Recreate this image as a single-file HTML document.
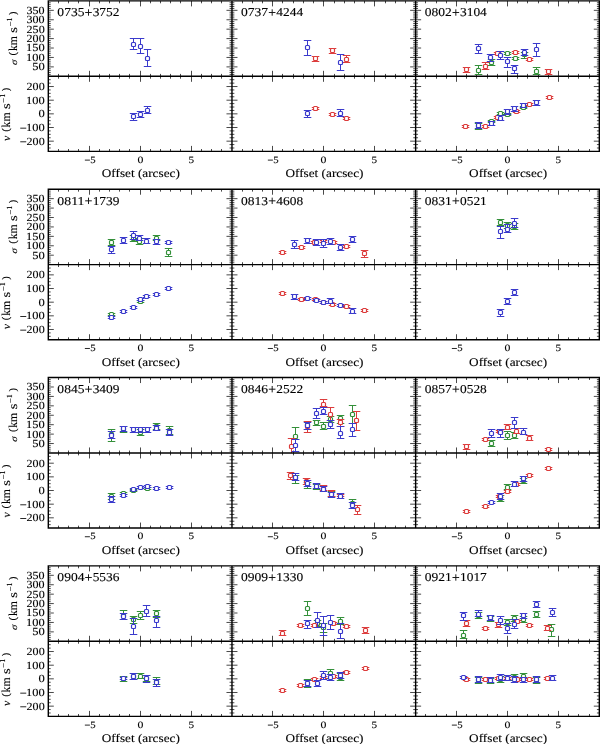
<!DOCTYPE html><html><head><meta charset="utf-8"><style>html,body{margin:0;padding:0;background:#fff;}body{width:600px;height:744px;overflow:hidden;}</style></head><body><svg width="600" height="744" viewBox="0 0 600 744" style="display:block"><rect width="600" height="744" fill="#fff"/><defs><clipPath id="cs00"><rect x="48.30" y="0.90" width="183.67" height="75.40"/></clipPath><clipPath id="cv00"><rect x="48.30" y="76.30" width="183.67" height="75.10"/></clipPath><clipPath id="cs01"><rect x="231.97" y="0.90" width="183.67" height="75.40"/></clipPath><clipPath id="cv01"><rect x="231.97" y="76.30" width="183.67" height="75.10"/></clipPath><clipPath id="cs02"><rect x="415.64" y="0.90" width="183.67" height="75.40"/></clipPath><clipPath id="cv02"><rect x="415.64" y="76.30" width="183.67" height="75.10"/></clipPath><clipPath id="cs10"><rect x="48.30" y="189.23" width="183.67" height="75.40"/></clipPath><clipPath id="cv10"><rect x="48.30" y="264.63" width="183.67" height="75.10"/></clipPath><clipPath id="cs11"><rect x="231.97" y="189.23" width="183.67" height="75.40"/></clipPath><clipPath id="cv11"><rect x="231.97" y="264.63" width="183.67" height="75.10"/></clipPath><clipPath id="cs12"><rect x="415.64" y="189.23" width="183.67" height="75.40"/></clipPath><clipPath id="cv12"><rect x="415.64" y="264.63" width="183.67" height="75.10"/></clipPath><clipPath id="cs20"><rect x="48.30" y="377.56" width="183.67" height="75.40"/></clipPath><clipPath id="cv20"><rect x="48.30" y="452.96" width="183.67" height="75.10"/></clipPath><clipPath id="cs21"><rect x="231.97" y="377.56" width="183.67" height="75.40"/></clipPath><clipPath id="cv21"><rect x="231.97" y="452.96" width="183.67" height="75.10"/></clipPath><clipPath id="cs22"><rect x="415.64" y="377.56" width="183.67" height="75.40"/></clipPath><clipPath id="cv22"><rect x="415.64" y="452.96" width="183.67" height="75.10"/></clipPath><clipPath id="cs30"><rect x="48.30" y="565.89" width="183.67" height="75.40"/></clipPath><clipPath id="cv30"><rect x="48.30" y="641.29" width="183.67" height="75.10"/></clipPath><clipPath id="cs31"><rect x="231.97" y="565.89" width="183.67" height="75.40"/></clipPath><clipPath id="cv31"><rect x="231.97" y="641.29" width="183.67" height="75.10"/></clipPath><clipPath id="cs32"><rect x="415.64" y="565.89" width="183.67" height="75.40"/></clipPath><clipPath id="cv32"><rect x="415.64" y="641.29" width="183.67" height="75.10"/></clipPath></defs><path d="M58.50 0.90v2.4M58.50 76.30v-2.4M58.50 76.30v2.4M58.50 151.40v-2.4M68.50 0.90v2.4M68.50 76.30v-2.4M68.50 76.30v2.4M68.50 151.40v-2.4M78.50 0.90v2.4M78.50 76.30v-2.4M78.50 76.30v2.4M78.50 151.40v-2.4M89.50 0.90v5.5M89.50 76.30v-5.5M89.50 76.30v5.5M89.50 151.40v-5.5M99.50 0.90v2.4M99.50 76.30v-2.4M99.50 76.30v2.4M99.50 151.40v-2.4M109.50 0.90v2.4M109.50 76.30v-2.4M109.50 76.30v2.4M109.50 151.40v-2.4M119.50 0.90v2.4M119.50 76.30v-2.4M119.50 76.30v2.4M119.50 151.40v-2.4M129.50 0.90v2.4M129.50 76.30v-2.4M129.50 76.30v2.4M129.50 151.40v-2.4M140.50 0.90v5.5M140.50 76.30v-5.5M140.50 76.30v5.5M140.50 151.40v-5.5M150.50 0.90v2.4M150.50 76.30v-2.4M150.50 76.30v2.4M150.50 151.40v-2.4M160.50 0.90v2.4M160.50 76.30v-2.4M160.50 76.30v2.4M160.50 151.40v-2.4M170.50 0.90v2.4M170.50 76.30v-2.4M170.50 76.30v2.4M170.50 151.40v-2.4M180.50 0.90v2.4M180.50 76.30v-2.4M180.50 76.30v2.4M180.50 151.40v-2.4M191.50 0.90v5.5M191.50 76.30v-5.5M191.50 76.30v5.5M191.50 151.40v-5.5M201.50 0.90v2.4M201.50 76.30v-2.4M201.50 76.30v2.4M201.50 151.40v-2.4M211.50 0.90v2.4M211.50 76.30v-2.4M211.50 76.30v2.4M211.50 151.40v-2.4M221.50 0.90v2.4M221.50 76.30v-2.4M221.50 76.30v2.4M221.50 151.40v-2.4M48.30 74.42h2.4M231.97 74.42h-2.4M48.30 72.53h2.4M231.97 72.53h-2.4M48.30 70.65h2.4M231.97 70.65h-2.4M48.30 68.76h2.4M231.97 68.76h-2.4M48.30 66.88h5.5M231.97 66.88h-5.5M48.30 64.99h2.4M231.97 64.99h-2.4M48.30 63.11h2.4M231.97 63.11h-2.4M48.30 61.22h2.4M231.97 61.22h-2.4M48.30 59.34h2.4M231.97 59.34h-2.4M48.30 57.45h5.5M231.97 57.45h-5.5M48.30 55.57h2.4M231.97 55.57h-2.4M48.30 53.68h2.4M231.97 53.68h-2.4M48.30 51.80h2.4M231.97 51.80h-2.4M48.30 49.91h2.4M231.97 49.91h-2.4M48.30 48.03h5.5M231.97 48.03h-5.5M48.30 46.14h2.4M231.97 46.14h-2.4M48.30 44.26h2.4M231.97 44.26h-2.4M48.30 42.37h2.4M231.97 42.37h-2.4M48.30 40.49h2.4M231.97 40.49h-2.4M48.30 38.60h5.5M231.97 38.60h-5.5M48.30 36.72h2.4M231.97 36.72h-2.4M48.30 34.83h2.4M231.97 34.83h-2.4M48.30 32.95h2.4M231.97 32.95h-2.4M48.30 31.06h2.4M231.97 31.06h-2.4M48.30 29.18h5.5M231.97 29.18h-5.5M48.30 27.29h2.4M231.97 27.29h-2.4M48.30 25.41h2.4M231.97 25.41h-2.4M48.30 23.52h2.4M231.97 23.52h-2.4M48.30 21.64h2.4M231.97 21.64h-2.4M48.30 19.75h5.5M231.97 19.75h-5.5M48.30 17.87h2.4M231.97 17.87h-2.4M48.30 15.98h2.4M231.97 15.98h-2.4M48.30 14.10h2.4M231.97 14.10h-2.4M48.30 12.21h2.4M231.97 12.21h-2.4M48.30 10.33h5.5M231.97 10.33h-5.5M48.30 8.44h2.4M231.97 8.44h-2.4M48.30 6.56h2.4M231.97 6.56h-2.4M48.30 4.67h2.4M231.97 4.67h-2.4M48.30 2.79h2.4M231.97 2.79h-2.4M48.30 147.99h2.4M231.97 147.99h-2.4M48.30 144.57h2.4M231.97 144.57h-2.4M48.30 141.16h5.5M231.97 141.16h-5.5M48.30 137.75h2.4M231.97 137.75h-2.4M48.30 134.33h2.4M231.97 134.33h-2.4M48.30 130.92h2.4M231.97 130.92h-2.4M48.30 127.50h5.5M231.97 127.50h-5.5M48.30 124.09h2.4M231.97 124.09h-2.4M48.30 120.68h2.4M231.97 120.68h-2.4M48.30 117.26h2.4M231.97 117.26h-2.4M48.30 113.85h5.5M231.97 113.85h-5.5M48.30 110.44h2.4M231.97 110.44h-2.4M48.30 107.02h2.4M231.97 107.02h-2.4M48.30 103.61h2.4M231.97 103.61h-2.4M48.30 100.20h5.5M231.97 100.20h-5.5M48.30 96.78h2.4M231.97 96.78h-2.4M48.30 93.37h2.4M231.97 93.37h-2.4M48.30 89.95h2.4M231.97 89.95h-2.4M48.30 86.54h5.5M231.97 86.54h-5.5M48.30 83.13h2.4M231.97 83.13h-2.4M48.30 79.71h2.4M231.97 79.71h-2.4M242.50 0.90v2.4M242.50 76.30v-2.4M242.50 76.30v2.4M242.50 151.40v-2.4M252.50 0.90v2.4M252.50 76.30v-2.4M252.50 76.30v2.4M252.50 151.40v-2.4M262.50 0.90v2.4M262.50 76.30v-2.4M262.50 76.30v2.4M262.50 151.40v-2.4M272.50 0.90v5.5M272.50 76.30v-5.5M272.50 76.30v5.5M272.50 151.40v-5.5M282.50 0.90v2.4M282.50 76.30v-2.4M282.50 76.30v2.4M282.50 151.40v-2.4M293.50 0.90v2.4M293.50 76.30v-2.4M293.50 76.30v2.4M293.50 151.40v-2.4M303.50 0.90v2.4M303.50 76.30v-2.4M303.50 76.30v2.4M303.50 151.40v-2.4M313.50 0.90v2.4M313.50 76.30v-2.4M313.50 76.30v2.4M313.50 151.40v-2.4M323.50 0.90v5.5M323.50 76.30v-5.5M323.50 76.30v5.5M323.50 151.40v-5.5M334.50 0.90v2.4M334.50 76.30v-2.4M334.50 76.30v2.4M334.50 151.40v-2.4M344.50 0.90v2.4M344.50 76.30v-2.4M344.50 76.30v2.4M344.50 151.40v-2.4M354.50 0.90v2.4M354.50 76.30v-2.4M354.50 76.30v2.4M354.50 151.40v-2.4M364.50 0.90v2.4M364.50 76.30v-2.4M364.50 76.30v2.4M364.50 151.40v-2.4M374.50 0.90v5.5M374.50 76.30v-5.5M374.50 76.30v5.5M374.50 151.40v-5.5M385.50 0.90v2.4M385.50 76.30v-2.4M385.50 76.30v2.4M385.50 151.40v-2.4M395.50 0.90v2.4M395.50 76.30v-2.4M395.50 76.30v2.4M395.50 151.40v-2.4M405.50 0.90v2.4M405.50 76.30v-2.4M405.50 76.30v2.4M405.50 151.40v-2.4M231.97 74.42h2.4M415.64 74.42h-2.4M231.97 72.53h2.4M415.64 72.53h-2.4M231.97 70.65h2.4M415.64 70.65h-2.4M231.97 68.76h2.4M415.64 68.76h-2.4M231.97 66.88h5.5M415.64 66.88h-5.5M231.97 64.99h2.4M415.64 64.99h-2.4M231.97 63.11h2.4M415.64 63.11h-2.4M231.97 61.22h2.4M415.64 61.22h-2.4M231.97 59.34h2.4M415.64 59.34h-2.4M231.97 57.45h5.5M415.64 57.45h-5.5M231.97 55.57h2.4M415.64 55.57h-2.4M231.97 53.68h2.4M415.64 53.68h-2.4M231.97 51.80h2.4M415.64 51.80h-2.4M231.97 49.91h2.4M415.64 49.91h-2.4M231.97 48.03h5.5M415.64 48.03h-5.5M231.97 46.14h2.4M415.64 46.14h-2.4M231.97 44.26h2.4M415.64 44.26h-2.4M231.97 42.37h2.4M415.64 42.37h-2.4M231.97 40.49h2.4M415.64 40.49h-2.4M231.97 38.60h5.5M415.64 38.60h-5.5M231.97 36.72h2.4M415.64 36.72h-2.4M231.97 34.83h2.4M415.64 34.83h-2.4M231.97 32.95h2.4M415.64 32.95h-2.4M231.97 31.06h2.4M415.64 31.06h-2.4M231.97 29.18h5.5M415.64 29.18h-5.5M231.97 27.29h2.4M415.64 27.29h-2.4M231.97 25.41h2.4M415.64 25.41h-2.4M231.97 23.52h2.4M415.64 23.52h-2.4M231.97 21.64h2.4M415.64 21.64h-2.4M231.97 19.75h5.5M415.64 19.75h-5.5M231.97 17.87h2.4M415.64 17.87h-2.4M231.97 15.98h2.4M415.64 15.98h-2.4M231.97 14.10h2.4M415.64 14.10h-2.4M231.97 12.21h2.4M415.64 12.21h-2.4M231.97 10.33h5.5M415.64 10.33h-5.5M231.97 8.44h2.4M415.64 8.44h-2.4M231.97 6.56h2.4M415.64 6.56h-2.4M231.97 4.67h2.4M415.64 4.67h-2.4M231.97 2.79h2.4M415.64 2.79h-2.4M231.97 147.99h2.4M415.64 147.99h-2.4M231.97 144.57h2.4M415.64 144.57h-2.4M231.97 141.16h5.5M415.64 141.16h-5.5M231.97 137.75h2.4M415.64 137.75h-2.4M231.97 134.33h2.4M415.64 134.33h-2.4M231.97 130.92h2.4M415.64 130.92h-2.4M231.97 127.50h5.5M415.64 127.50h-5.5M231.97 124.09h2.4M415.64 124.09h-2.4M231.97 120.68h2.4M415.64 120.68h-2.4M231.97 117.26h2.4M415.64 117.26h-2.4M231.97 113.85h5.5M415.64 113.85h-5.5M231.97 110.44h2.4M415.64 110.44h-2.4M231.97 107.02h2.4M415.64 107.02h-2.4M231.97 103.61h2.4M415.64 103.61h-2.4M231.97 100.20h5.5M415.64 100.20h-5.5M231.97 96.78h2.4M415.64 96.78h-2.4M231.97 93.37h2.4M415.64 93.37h-2.4M231.97 89.95h2.4M415.64 89.95h-2.4M231.97 86.54h5.5M415.64 86.54h-5.5M231.97 83.13h2.4M415.64 83.13h-2.4M231.97 79.71h2.4M415.64 79.71h-2.4M425.50 0.90v2.4M425.50 76.30v-2.4M425.50 76.30v2.4M425.50 151.40v-2.4M436.50 0.90v2.4M436.50 76.30v-2.4M436.50 76.30v2.4M436.50 151.40v-2.4M446.50 0.90v2.4M446.50 76.30v-2.4M446.50 76.30v2.4M446.50 151.40v-2.4M456.50 0.90v5.5M456.50 76.30v-5.5M456.50 76.30v5.5M456.50 151.40v-5.5M466.50 0.90v2.4M466.50 76.30v-2.4M466.50 76.30v2.4M466.50 151.40v-2.4M476.50 0.90v2.4M476.50 76.30v-2.4M476.50 76.30v2.4M476.50 151.40v-2.4M487.50 0.90v2.4M487.50 76.30v-2.4M487.50 76.30v2.4M487.50 151.40v-2.4M497.50 0.90v2.4M497.50 76.30v-2.4M497.50 76.30v2.4M497.50 151.40v-2.4M507.50 0.90v5.5M507.50 76.30v-5.5M507.50 76.30v5.5M507.50 151.40v-5.5M517.50 0.90v2.4M517.50 76.30v-2.4M517.50 76.30v2.4M517.50 151.40v-2.4M527.50 0.90v2.4M527.50 76.30v-2.4M527.50 76.30v2.4M527.50 151.40v-2.4M538.50 0.90v2.4M538.50 76.30v-2.4M538.50 76.30v2.4M538.50 151.40v-2.4M548.50 0.90v2.4M548.50 76.30v-2.4M548.50 76.30v2.4M548.50 151.40v-2.4M558.50 0.90v5.5M558.50 76.30v-5.5M558.50 76.30v5.5M558.50 151.40v-5.5M568.50 0.90v2.4M568.50 76.30v-2.4M568.50 76.30v2.4M568.50 151.40v-2.4M578.50 0.90v2.4M578.50 76.30v-2.4M578.50 76.30v2.4M578.50 151.40v-2.4M589.50 0.90v2.4M589.50 76.30v-2.4M589.50 76.30v2.4M589.50 151.40v-2.4M415.64 74.42h2.4M599.31 74.42h-2.4M415.64 72.53h2.4M599.31 72.53h-2.4M415.64 70.65h2.4M599.31 70.65h-2.4M415.64 68.76h2.4M599.31 68.76h-2.4M415.64 66.88h5.5M599.31 66.88h-5.5M415.64 64.99h2.4M599.31 64.99h-2.4M415.64 63.11h2.4M599.31 63.11h-2.4M415.64 61.22h2.4M599.31 61.22h-2.4M415.64 59.34h2.4M599.31 59.34h-2.4M415.64 57.45h5.5M599.31 57.45h-5.5M415.64 55.57h2.4M599.31 55.57h-2.4M415.64 53.68h2.4M599.31 53.68h-2.4M415.64 51.80h2.4M599.31 51.80h-2.4M415.64 49.91h2.4M599.31 49.91h-2.4M415.64 48.03h5.5M599.31 48.03h-5.5M415.64 46.14h2.4M599.31 46.14h-2.4M415.64 44.26h2.4M599.31 44.26h-2.4M415.64 42.37h2.4M599.31 42.37h-2.4M415.64 40.49h2.4M599.31 40.49h-2.4M415.64 38.60h5.5M599.31 38.60h-5.5M415.64 36.72h2.4M599.31 36.72h-2.4M415.64 34.83h2.4M599.31 34.83h-2.4M415.64 32.95h2.4M599.31 32.95h-2.4M415.64 31.06h2.4M599.31 31.06h-2.4M415.64 29.18h5.5M599.31 29.18h-5.5M415.64 27.29h2.4M599.31 27.29h-2.4M415.64 25.41h2.4M599.31 25.41h-2.4M415.64 23.52h2.4M599.31 23.52h-2.4M415.64 21.64h2.4M599.31 21.64h-2.4M415.64 19.75h5.5M599.31 19.75h-5.5M415.64 17.87h2.4M599.31 17.87h-2.4M415.64 15.98h2.4M599.31 15.98h-2.4M415.64 14.10h2.4M599.31 14.10h-2.4M415.64 12.21h2.4M599.31 12.21h-2.4M415.64 10.33h5.5M599.31 10.33h-5.5M415.64 8.44h2.4M599.31 8.44h-2.4M415.64 6.56h2.4M599.31 6.56h-2.4M415.64 4.67h2.4M599.31 4.67h-2.4M415.64 2.79h2.4M599.31 2.79h-2.4M415.64 147.99h2.4M599.31 147.99h-2.4M415.64 144.57h2.4M599.31 144.57h-2.4M415.64 141.16h5.5M599.31 141.16h-5.5M415.64 137.75h2.4M599.31 137.75h-2.4M415.64 134.33h2.4M599.31 134.33h-2.4M415.64 130.92h2.4M599.31 130.92h-2.4M415.64 127.50h5.5M599.31 127.50h-5.5M415.64 124.09h2.4M599.31 124.09h-2.4M415.64 120.68h2.4M599.31 120.68h-2.4M415.64 117.26h2.4M599.31 117.26h-2.4M415.64 113.85h5.5M599.31 113.85h-5.5M415.64 110.44h2.4M599.31 110.44h-2.4M415.64 107.02h2.4M599.31 107.02h-2.4M415.64 103.61h2.4M599.31 103.61h-2.4M415.64 100.20h5.5M599.31 100.20h-5.5M415.64 96.78h2.4M599.31 96.78h-2.4M415.64 93.37h2.4M599.31 93.37h-2.4M415.64 89.95h2.4M599.31 89.95h-2.4M415.64 86.54h5.5M599.31 86.54h-5.5M415.64 83.13h2.4M599.31 83.13h-2.4M415.64 79.71h2.4M599.31 79.71h-2.4M58.50 189.23v2.4M58.50 264.63v-2.4M58.50 264.63v2.4M58.50 339.73v-2.4M68.50 189.23v2.4M68.50 264.63v-2.4M68.50 264.63v2.4M68.50 339.73v-2.4M78.50 189.23v2.4M78.50 264.63v-2.4M78.50 264.63v2.4M78.50 339.73v-2.4M89.50 189.23v5.5M89.50 264.63v-5.5M89.50 264.63v5.5M89.50 339.73v-5.5M99.50 189.23v2.4M99.50 264.63v-2.4M99.50 264.63v2.4M99.50 339.73v-2.4M109.50 189.23v2.4M109.50 264.63v-2.4M109.50 264.63v2.4M109.50 339.73v-2.4M119.50 189.23v2.4M119.50 264.63v-2.4M119.50 264.63v2.4M119.50 339.73v-2.4M129.50 189.23v2.4M129.50 264.63v-2.4M129.50 264.63v2.4M129.50 339.73v-2.4M140.50 189.23v5.5M140.50 264.63v-5.5M140.50 264.63v5.5M140.50 339.73v-5.5M150.50 189.23v2.4M150.50 264.63v-2.4M150.50 264.63v2.4M150.50 339.73v-2.4M160.50 189.23v2.4M160.50 264.63v-2.4M160.50 264.63v2.4M160.50 339.73v-2.4M170.50 189.23v2.4M170.50 264.63v-2.4M170.50 264.63v2.4M170.50 339.73v-2.4M180.50 189.23v2.4M180.50 264.63v-2.4M180.50 264.63v2.4M180.50 339.73v-2.4M191.50 189.23v5.5M191.50 264.63v-5.5M191.50 264.63v5.5M191.50 339.73v-5.5M201.50 189.23v2.4M201.50 264.63v-2.4M201.50 264.63v2.4M201.50 339.73v-2.4M211.50 189.23v2.4M211.50 264.63v-2.4M211.50 264.63v2.4M211.50 339.73v-2.4M221.50 189.23v2.4M221.50 264.63v-2.4M221.50 264.63v2.4M221.50 339.73v-2.4M48.30 262.75h2.4M231.97 262.75h-2.4M48.30 260.86h2.4M231.97 260.86h-2.4M48.30 258.98h2.4M231.97 258.98h-2.4M48.30 257.09h2.4M231.97 257.09h-2.4M48.30 255.20h5.5M231.97 255.20h-5.5M48.30 253.32h2.4M231.97 253.32h-2.4M48.30 251.44h2.4M231.97 251.44h-2.4M48.30 249.55h2.4M231.97 249.55h-2.4M48.30 247.66h2.4M231.97 247.66h-2.4M48.30 245.78h5.5M231.97 245.78h-5.5M48.30 243.89h2.4M231.97 243.89h-2.4M48.30 242.01h2.4M231.97 242.01h-2.4M48.30 240.12h2.4M231.97 240.12h-2.4M48.30 238.24h2.4M231.97 238.24h-2.4M48.30 236.35h5.5M231.97 236.35h-5.5M48.30 234.47h2.4M231.97 234.47h-2.4M48.30 232.58h2.4M231.97 232.58h-2.4M48.30 230.70h2.4M231.97 230.70h-2.4M48.30 228.81h2.4M231.97 228.81h-2.4M48.30 226.93h5.5M231.97 226.93h-5.5M48.30 225.04h2.4M231.97 225.04h-2.4M48.30 223.16h2.4M231.97 223.16h-2.4M48.30 221.28h2.4M231.97 221.28h-2.4M48.30 219.39h2.4M231.97 219.39h-2.4M48.30 217.50h5.5M231.97 217.50h-5.5M48.30 215.62h2.4M231.97 215.62h-2.4M48.30 213.73h2.4M231.97 213.73h-2.4M48.30 211.85h2.4M231.97 211.85h-2.4M48.30 209.97h2.4M231.97 209.97h-2.4M48.30 208.08h5.5M231.97 208.08h-5.5M48.30 206.19h2.4M231.97 206.19h-2.4M48.30 204.31h2.4M231.97 204.31h-2.4M48.30 202.43h2.4M231.97 202.43h-2.4M48.30 200.54h2.4M231.97 200.54h-2.4M48.30 198.65h5.5M231.97 198.65h-5.5M48.30 196.77h2.4M231.97 196.77h-2.4M48.30 194.88h2.4M231.97 194.88h-2.4M48.30 193.00h2.4M231.97 193.00h-2.4M48.30 191.12h2.4M231.97 191.12h-2.4M48.30 336.32h2.4M231.97 336.32h-2.4M48.30 332.90h2.4M231.97 332.90h-2.4M48.30 329.49h5.5M231.97 329.49h-5.5M48.30 326.08h2.4M231.97 326.08h-2.4M48.30 322.66h2.4M231.97 322.66h-2.4M48.30 319.25h2.4M231.97 319.25h-2.4M48.30 315.83h5.5M231.97 315.83h-5.5M48.30 312.42h2.4M231.97 312.42h-2.4M48.30 309.01h2.4M231.97 309.01h-2.4M48.30 305.59h2.4M231.97 305.59h-2.4M48.30 302.18h5.5M231.97 302.18h-5.5M48.30 298.77h2.4M231.97 298.77h-2.4M48.30 295.35h2.4M231.97 295.35h-2.4M48.30 291.94h2.4M231.97 291.94h-2.4M48.30 288.53h5.5M231.97 288.53h-5.5M48.30 285.11h2.4M231.97 285.11h-2.4M48.30 281.70h2.4M231.97 281.70h-2.4M48.30 278.28h2.4M231.97 278.28h-2.4M48.30 274.87h5.5M231.97 274.87h-5.5M48.30 271.46h2.4M231.97 271.46h-2.4M48.30 268.04h2.4M231.97 268.04h-2.4M242.50 189.23v2.4M242.50 264.63v-2.4M242.50 264.63v2.4M242.50 339.73v-2.4M252.50 189.23v2.4M252.50 264.63v-2.4M252.50 264.63v2.4M252.50 339.73v-2.4M262.50 189.23v2.4M262.50 264.63v-2.4M262.50 264.63v2.4M262.50 339.73v-2.4M272.50 189.23v5.5M272.50 264.63v-5.5M272.50 264.63v5.5M272.50 339.73v-5.5M282.50 189.23v2.4M282.50 264.63v-2.4M282.50 264.63v2.4M282.50 339.73v-2.4M293.50 189.23v2.4M293.50 264.63v-2.4M293.50 264.63v2.4M293.50 339.73v-2.4M303.50 189.23v2.4M303.50 264.63v-2.4M303.50 264.63v2.4M303.50 339.73v-2.4M313.50 189.23v2.4M313.50 264.63v-2.4M313.50 264.63v2.4M313.50 339.73v-2.4M323.50 189.23v5.5M323.50 264.63v-5.5M323.50 264.63v5.5M323.50 339.73v-5.5M334.50 189.23v2.4M334.50 264.63v-2.4M334.50 264.63v2.4M334.50 339.73v-2.4M344.50 189.23v2.4M344.50 264.63v-2.4M344.50 264.63v2.4M344.50 339.73v-2.4M354.50 189.23v2.4M354.50 264.63v-2.4M354.50 264.63v2.4M354.50 339.73v-2.4M364.50 189.23v2.4M364.50 264.63v-2.4M364.50 264.63v2.4M364.50 339.73v-2.4M374.50 189.23v5.5M374.50 264.63v-5.5M374.50 264.63v5.5M374.50 339.73v-5.5M385.50 189.23v2.4M385.50 264.63v-2.4M385.50 264.63v2.4M385.50 339.73v-2.4M395.50 189.23v2.4M395.50 264.63v-2.4M395.50 264.63v2.4M395.50 339.73v-2.4M405.50 189.23v2.4M405.50 264.63v-2.4M405.50 264.63v2.4M405.50 339.73v-2.4M231.97 262.75h2.4M415.64 262.75h-2.4M231.97 260.86h2.4M415.64 260.86h-2.4M231.97 258.98h2.4M415.64 258.98h-2.4M231.97 257.09h2.4M415.64 257.09h-2.4M231.97 255.20h5.5M415.64 255.20h-5.5M231.97 253.32h2.4M415.64 253.32h-2.4M231.97 251.44h2.4M415.64 251.44h-2.4M231.97 249.55h2.4M415.64 249.55h-2.4M231.97 247.66h2.4M415.64 247.66h-2.4M231.97 245.78h5.5M415.64 245.78h-5.5M231.97 243.89h2.4M415.64 243.89h-2.4M231.97 242.01h2.4M415.64 242.01h-2.4M231.97 240.12h2.4M415.64 240.12h-2.4M231.97 238.24h2.4M415.64 238.24h-2.4M231.97 236.35h5.5M415.64 236.35h-5.5M231.97 234.47h2.4M415.64 234.47h-2.4M231.97 232.58h2.4M415.64 232.58h-2.4M231.97 230.70h2.4M415.64 230.70h-2.4M231.97 228.81h2.4M415.64 228.81h-2.4M231.97 226.93h5.5M415.64 226.93h-5.5M231.97 225.04h2.4M415.64 225.04h-2.4M231.97 223.16h2.4M415.64 223.16h-2.4M231.97 221.28h2.4M415.64 221.28h-2.4M231.97 219.39h2.4M415.64 219.39h-2.4M231.97 217.50h5.5M415.64 217.50h-5.5M231.97 215.62h2.4M415.64 215.62h-2.4M231.97 213.73h2.4M415.64 213.73h-2.4M231.97 211.85h2.4M415.64 211.85h-2.4M231.97 209.97h2.4M415.64 209.97h-2.4M231.97 208.08h5.5M415.64 208.08h-5.5M231.97 206.19h2.4M415.64 206.19h-2.4M231.97 204.31h2.4M415.64 204.31h-2.4M231.97 202.43h2.4M415.64 202.43h-2.4M231.97 200.54h2.4M415.64 200.54h-2.4M231.97 198.65h5.5M415.64 198.65h-5.5M231.97 196.77h2.4M415.64 196.77h-2.4M231.97 194.88h2.4M415.64 194.88h-2.4M231.97 193.00h2.4M415.64 193.00h-2.4M231.97 191.12h2.4M415.64 191.12h-2.4M231.97 336.32h2.4M415.64 336.32h-2.4M231.97 332.90h2.4M415.64 332.90h-2.4M231.97 329.49h5.5M415.64 329.49h-5.5M231.97 326.08h2.4M415.64 326.08h-2.4M231.97 322.66h2.4M415.64 322.66h-2.4M231.97 319.25h2.4M415.64 319.25h-2.4M231.97 315.83h5.5M415.64 315.83h-5.5M231.97 312.42h2.4M415.64 312.42h-2.4M231.97 309.01h2.4M415.64 309.01h-2.4M231.97 305.59h2.4M415.64 305.59h-2.4M231.97 302.18h5.5M415.64 302.18h-5.5M231.97 298.77h2.4M415.64 298.77h-2.4M231.97 295.35h2.4M415.64 295.35h-2.4M231.97 291.94h2.4M415.64 291.94h-2.4M231.97 288.53h5.5M415.64 288.53h-5.5M231.97 285.11h2.4M415.64 285.11h-2.4M231.97 281.70h2.4M415.64 281.70h-2.4M231.97 278.28h2.4M415.64 278.28h-2.4M231.97 274.87h5.5M415.64 274.87h-5.5M231.97 271.46h2.4M415.64 271.46h-2.4M231.97 268.04h2.4M415.64 268.04h-2.4M425.50 189.23v2.4M425.50 264.63v-2.4M425.50 264.63v2.4M425.50 339.73v-2.4M436.50 189.23v2.4M436.50 264.63v-2.4M436.50 264.63v2.4M436.50 339.73v-2.4M446.50 189.23v2.4M446.50 264.63v-2.4M446.50 264.63v2.4M446.50 339.73v-2.4M456.50 189.23v5.5M456.50 264.63v-5.5M456.50 264.63v5.5M456.50 339.73v-5.5M466.50 189.23v2.4M466.50 264.63v-2.4M466.50 264.63v2.4M466.50 339.73v-2.4M476.50 189.23v2.4M476.50 264.63v-2.4M476.50 264.63v2.4M476.50 339.73v-2.4M487.50 189.23v2.4M487.50 264.63v-2.4M487.50 264.63v2.4M487.50 339.73v-2.4M497.50 189.23v2.4M497.50 264.63v-2.4M497.50 264.63v2.4M497.50 339.73v-2.4M507.50 189.23v5.5M507.50 264.63v-5.5M507.50 264.63v5.5M507.50 339.73v-5.5M517.50 189.23v2.4M517.50 264.63v-2.4M517.50 264.63v2.4M517.50 339.73v-2.4M527.50 189.23v2.4M527.50 264.63v-2.4M527.50 264.63v2.4M527.50 339.73v-2.4M538.50 189.23v2.4M538.50 264.63v-2.4M538.50 264.63v2.4M538.50 339.73v-2.4M548.50 189.23v2.4M548.50 264.63v-2.4M548.50 264.63v2.4M548.50 339.73v-2.4M558.50 189.23v5.5M558.50 264.63v-5.5M558.50 264.63v5.5M558.50 339.73v-5.5M568.50 189.23v2.4M568.50 264.63v-2.4M568.50 264.63v2.4M568.50 339.73v-2.4M578.50 189.23v2.4M578.50 264.63v-2.4M578.50 264.63v2.4M578.50 339.73v-2.4M589.50 189.23v2.4M589.50 264.63v-2.4M589.50 264.63v2.4M589.50 339.73v-2.4M415.64 262.75h2.4M599.31 262.75h-2.4M415.64 260.86h2.4M599.31 260.86h-2.4M415.64 258.98h2.4M599.31 258.98h-2.4M415.64 257.09h2.4M599.31 257.09h-2.4M415.64 255.20h5.5M599.31 255.20h-5.5M415.64 253.32h2.4M599.31 253.32h-2.4M415.64 251.44h2.4M599.31 251.44h-2.4M415.64 249.55h2.4M599.31 249.55h-2.4M415.64 247.66h2.4M599.31 247.66h-2.4M415.64 245.78h5.5M599.31 245.78h-5.5M415.64 243.89h2.4M599.31 243.89h-2.4M415.64 242.01h2.4M599.31 242.01h-2.4M415.64 240.12h2.4M599.31 240.12h-2.4M415.64 238.24h2.4M599.31 238.24h-2.4M415.64 236.35h5.5M599.31 236.35h-5.5M415.64 234.47h2.4M599.31 234.47h-2.4M415.64 232.58h2.4M599.31 232.58h-2.4M415.64 230.70h2.4M599.31 230.70h-2.4M415.64 228.81h2.4M599.31 228.81h-2.4M415.64 226.93h5.5M599.31 226.93h-5.5M415.64 225.04h2.4M599.31 225.04h-2.4M415.64 223.16h2.4M599.31 223.16h-2.4M415.64 221.28h2.4M599.31 221.28h-2.4M415.64 219.39h2.4M599.31 219.39h-2.4M415.64 217.50h5.5M599.31 217.50h-5.5M415.64 215.62h2.4M599.31 215.62h-2.4M415.64 213.73h2.4M599.31 213.73h-2.4M415.64 211.85h2.4M599.31 211.85h-2.4M415.64 209.97h2.4M599.31 209.97h-2.4M415.64 208.08h5.5M599.31 208.08h-5.5M415.64 206.19h2.4M599.31 206.19h-2.4M415.64 204.31h2.4M599.31 204.31h-2.4M415.64 202.43h2.4M599.31 202.43h-2.4M415.64 200.54h2.4M599.31 200.54h-2.4M415.64 198.65h5.5M599.31 198.65h-5.5M415.64 196.77h2.4M599.31 196.77h-2.4M415.64 194.88h2.4M599.31 194.88h-2.4M415.64 193.00h2.4M599.31 193.00h-2.4M415.64 191.12h2.4M599.31 191.12h-2.4M415.64 336.32h2.4M599.31 336.32h-2.4M415.64 332.90h2.4M599.31 332.90h-2.4M415.64 329.49h5.5M599.31 329.49h-5.5M415.64 326.08h2.4M599.31 326.08h-2.4M415.64 322.66h2.4M599.31 322.66h-2.4M415.64 319.25h2.4M599.31 319.25h-2.4M415.64 315.83h5.5M599.31 315.83h-5.5M415.64 312.42h2.4M599.31 312.42h-2.4M415.64 309.01h2.4M599.31 309.01h-2.4M415.64 305.59h2.4M599.31 305.59h-2.4M415.64 302.18h5.5M599.31 302.18h-5.5M415.64 298.77h2.4M599.31 298.77h-2.4M415.64 295.35h2.4M599.31 295.35h-2.4M415.64 291.94h2.4M599.31 291.94h-2.4M415.64 288.53h5.5M599.31 288.53h-5.5M415.64 285.11h2.4M599.31 285.11h-2.4M415.64 281.70h2.4M599.31 281.70h-2.4M415.64 278.28h2.4M599.31 278.28h-2.4M415.64 274.87h5.5M599.31 274.87h-5.5M415.64 271.46h2.4M599.31 271.46h-2.4M415.64 268.04h2.4M599.31 268.04h-2.4M58.50 377.56v2.4M58.50 452.96v-2.4M58.50 452.96v2.4M58.50 528.06v-2.4M68.50 377.56v2.4M68.50 452.96v-2.4M68.50 452.96v2.4M68.50 528.06v-2.4M78.50 377.56v2.4M78.50 452.96v-2.4M78.50 452.96v2.4M78.50 528.06v-2.4M89.50 377.56v5.5M89.50 452.96v-5.5M89.50 452.96v5.5M89.50 528.06v-5.5M99.50 377.56v2.4M99.50 452.96v-2.4M99.50 452.96v2.4M99.50 528.06v-2.4M109.50 377.56v2.4M109.50 452.96v-2.4M109.50 452.96v2.4M109.50 528.06v-2.4M119.50 377.56v2.4M119.50 452.96v-2.4M119.50 452.96v2.4M119.50 528.06v-2.4M129.50 377.56v2.4M129.50 452.96v-2.4M129.50 452.96v2.4M129.50 528.06v-2.4M140.50 377.56v5.5M140.50 452.96v-5.5M140.50 452.96v5.5M140.50 528.06v-5.5M150.50 377.56v2.4M150.50 452.96v-2.4M150.50 452.96v2.4M150.50 528.06v-2.4M160.50 377.56v2.4M160.50 452.96v-2.4M160.50 452.96v2.4M160.50 528.06v-2.4M170.50 377.56v2.4M170.50 452.96v-2.4M170.50 452.96v2.4M170.50 528.06v-2.4M180.50 377.56v2.4M180.50 452.96v-2.4M180.50 452.96v2.4M180.50 528.06v-2.4M191.50 377.56v5.5M191.50 452.96v-5.5M191.50 452.96v5.5M191.50 528.06v-5.5M201.50 377.56v2.4M201.50 452.96v-2.4M201.50 452.96v2.4M201.50 528.06v-2.4M211.50 377.56v2.4M211.50 452.96v-2.4M211.50 452.96v2.4M211.50 528.06v-2.4M221.50 377.56v2.4M221.50 452.96v-2.4M221.50 452.96v2.4M221.50 528.06v-2.4M48.30 451.08h2.4M231.97 451.08h-2.4M48.30 449.19h2.4M231.97 449.19h-2.4M48.30 447.31h2.4M231.97 447.31h-2.4M48.30 445.42h2.4M231.97 445.42h-2.4M48.30 443.54h5.5M231.97 443.54h-5.5M48.30 441.65h2.4M231.97 441.65h-2.4M48.30 439.77h2.4M231.97 439.77h-2.4M48.30 437.88h2.4M231.97 437.88h-2.4M48.30 436.00h2.4M231.97 436.00h-2.4M48.30 434.11h5.5M231.97 434.11h-5.5M48.30 432.23h2.4M231.97 432.23h-2.4M48.30 430.34h2.4M231.97 430.34h-2.4M48.30 428.46h2.4M231.97 428.46h-2.4M48.30 426.57h2.4M231.97 426.57h-2.4M48.30 424.69h5.5M231.97 424.69h-5.5M48.30 422.80h2.4M231.97 422.80h-2.4M48.30 420.92h2.4M231.97 420.92h-2.4M48.30 419.03h2.4M231.97 419.03h-2.4M48.30 417.15h2.4M231.97 417.15h-2.4M48.30 415.26h5.5M231.97 415.26h-5.5M48.30 413.38h2.4M231.97 413.38h-2.4M48.30 411.49h2.4M231.97 411.49h-2.4M48.30 409.61h2.4M231.97 409.61h-2.4M48.30 407.72h2.4M231.97 407.72h-2.4M48.30 405.84h5.5M231.97 405.84h-5.5M48.30 403.95h2.4M231.97 403.95h-2.4M48.30 402.07h2.4M231.97 402.07h-2.4M48.30 400.18h2.4M231.97 400.18h-2.4M48.30 398.30h2.4M231.97 398.30h-2.4M48.30 396.41h5.5M231.97 396.41h-5.5M48.30 394.53h2.4M231.97 394.53h-2.4M48.30 392.64h2.4M231.97 392.64h-2.4M48.30 390.76h2.4M231.97 390.76h-2.4M48.30 388.87h2.4M231.97 388.87h-2.4M48.30 386.99h5.5M231.97 386.99h-5.5M48.30 385.10h2.4M231.97 385.10h-2.4M48.30 383.22h2.4M231.97 383.22h-2.4M48.30 381.33h2.4M231.97 381.33h-2.4M48.30 379.45h2.4M231.97 379.45h-2.4M48.30 524.65h2.4M231.97 524.65h-2.4M48.30 521.23h2.4M231.97 521.23h-2.4M48.30 517.82h5.5M231.97 517.82h-5.5M48.30 514.41h2.4M231.97 514.41h-2.4M48.30 510.99h2.4M231.97 510.99h-2.4M48.30 507.58h2.4M231.97 507.58h-2.4M48.30 504.16h5.5M231.97 504.16h-5.5M48.30 500.75h2.4M231.97 500.75h-2.4M48.30 497.34h2.4M231.97 497.34h-2.4M48.30 493.92h2.4M231.97 493.92h-2.4M48.30 490.51h5.5M231.97 490.51h-5.5M48.30 487.10h2.4M231.97 487.10h-2.4M48.30 483.68h2.4M231.97 483.68h-2.4M48.30 480.27h2.4M231.97 480.27h-2.4M48.30 476.86h5.5M231.97 476.86h-5.5M48.30 473.44h2.4M231.97 473.44h-2.4M48.30 470.03h2.4M231.97 470.03h-2.4M48.30 466.61h2.4M231.97 466.61h-2.4M48.30 463.20h5.5M231.97 463.20h-5.5M48.30 459.79h2.4M231.97 459.79h-2.4M48.30 456.37h2.4M231.97 456.37h-2.4M242.50 377.56v2.4M242.50 452.96v-2.4M242.50 452.96v2.4M242.50 528.06v-2.4M252.50 377.56v2.4M252.50 452.96v-2.4M252.50 452.96v2.4M252.50 528.06v-2.4M262.50 377.56v2.4M262.50 452.96v-2.4M262.50 452.96v2.4M262.50 528.06v-2.4M272.50 377.56v5.5M272.50 452.96v-5.5M272.50 452.96v5.5M272.50 528.06v-5.5M282.50 377.56v2.4M282.50 452.96v-2.4M282.50 452.96v2.4M282.50 528.06v-2.4M293.50 377.56v2.4M293.50 452.96v-2.4M293.50 452.96v2.4M293.50 528.06v-2.4M303.50 377.56v2.4M303.50 452.96v-2.4M303.50 452.96v2.4M303.50 528.06v-2.4M313.50 377.56v2.4M313.50 452.96v-2.4M313.50 452.96v2.4M313.50 528.06v-2.4M323.50 377.56v5.5M323.50 452.96v-5.5M323.50 452.96v5.5M323.50 528.06v-5.5M334.50 377.56v2.4M334.50 452.96v-2.4M334.50 452.96v2.4M334.50 528.06v-2.4M344.50 377.56v2.4M344.50 452.96v-2.4M344.50 452.96v2.4M344.50 528.06v-2.4M354.50 377.56v2.4M354.50 452.96v-2.4M354.50 452.96v2.4M354.50 528.06v-2.4M364.50 377.56v2.4M364.50 452.96v-2.4M364.50 452.96v2.4M364.50 528.06v-2.4M374.50 377.56v5.5M374.50 452.96v-5.5M374.50 452.96v5.5M374.50 528.06v-5.5M385.50 377.56v2.4M385.50 452.96v-2.4M385.50 452.96v2.4M385.50 528.06v-2.4M395.50 377.56v2.4M395.50 452.96v-2.4M395.50 452.96v2.4M395.50 528.06v-2.4M405.50 377.56v2.4M405.50 452.96v-2.4M405.50 452.96v2.4M405.50 528.06v-2.4M231.97 451.08h2.4M415.64 451.08h-2.4M231.97 449.19h2.4M415.64 449.19h-2.4M231.97 447.31h2.4M415.64 447.31h-2.4M231.97 445.42h2.4M415.64 445.42h-2.4M231.97 443.54h5.5M415.64 443.54h-5.5M231.97 441.65h2.4M415.64 441.65h-2.4M231.97 439.77h2.4M415.64 439.77h-2.4M231.97 437.88h2.4M415.64 437.88h-2.4M231.97 436.00h2.4M415.64 436.00h-2.4M231.97 434.11h5.5M415.64 434.11h-5.5M231.97 432.23h2.4M415.64 432.23h-2.4M231.97 430.34h2.4M415.64 430.34h-2.4M231.97 428.46h2.4M415.64 428.46h-2.4M231.97 426.57h2.4M415.64 426.57h-2.4M231.97 424.69h5.5M415.64 424.69h-5.5M231.97 422.80h2.4M415.64 422.80h-2.4M231.97 420.92h2.4M415.64 420.92h-2.4M231.97 419.03h2.4M415.64 419.03h-2.4M231.97 417.15h2.4M415.64 417.15h-2.4M231.97 415.26h5.5M415.64 415.26h-5.5M231.97 413.38h2.4M415.64 413.38h-2.4M231.97 411.49h2.4M415.64 411.49h-2.4M231.97 409.61h2.4M415.64 409.61h-2.4M231.97 407.72h2.4M415.64 407.72h-2.4M231.97 405.84h5.5M415.64 405.84h-5.5M231.97 403.95h2.4M415.64 403.95h-2.4M231.97 402.07h2.4M415.64 402.07h-2.4M231.97 400.18h2.4M415.64 400.18h-2.4M231.97 398.30h2.4M415.64 398.30h-2.4M231.97 396.41h5.5M415.64 396.41h-5.5M231.97 394.53h2.4M415.64 394.53h-2.4M231.97 392.64h2.4M415.64 392.64h-2.4M231.97 390.76h2.4M415.64 390.76h-2.4M231.97 388.87h2.4M415.64 388.87h-2.4M231.97 386.99h5.5M415.64 386.99h-5.5M231.97 385.10h2.4M415.64 385.10h-2.4M231.97 383.22h2.4M415.64 383.22h-2.4M231.97 381.33h2.4M415.64 381.33h-2.4M231.97 379.45h2.4M415.64 379.45h-2.4M231.97 524.65h2.4M415.64 524.65h-2.4M231.97 521.23h2.4M415.64 521.23h-2.4M231.97 517.82h5.5M415.64 517.82h-5.5M231.97 514.41h2.4M415.64 514.41h-2.4M231.97 510.99h2.4M415.64 510.99h-2.4M231.97 507.58h2.4M415.64 507.58h-2.4M231.97 504.16h5.5M415.64 504.16h-5.5M231.97 500.75h2.4M415.64 500.75h-2.4M231.97 497.34h2.4M415.64 497.34h-2.4M231.97 493.92h2.4M415.64 493.92h-2.4M231.97 490.51h5.5M415.64 490.51h-5.5M231.97 487.10h2.4M415.64 487.10h-2.4M231.97 483.68h2.4M415.64 483.68h-2.4M231.97 480.27h2.4M415.64 480.27h-2.4M231.97 476.86h5.5M415.64 476.86h-5.5M231.97 473.44h2.4M415.64 473.44h-2.4M231.97 470.03h2.4M415.64 470.03h-2.4M231.97 466.61h2.4M415.64 466.61h-2.4M231.97 463.20h5.5M415.64 463.20h-5.5M231.97 459.79h2.4M415.64 459.79h-2.4M231.97 456.37h2.4M415.64 456.37h-2.4M425.50 377.56v2.4M425.50 452.96v-2.4M425.50 452.96v2.4M425.50 528.06v-2.4M436.50 377.56v2.4M436.50 452.96v-2.4M436.50 452.96v2.4M436.50 528.06v-2.4M446.50 377.56v2.4M446.50 452.96v-2.4M446.50 452.96v2.4M446.50 528.06v-2.4M456.50 377.56v5.5M456.50 452.96v-5.5M456.50 452.96v5.5M456.50 528.06v-5.5M466.50 377.56v2.4M466.50 452.96v-2.4M466.50 452.96v2.4M466.50 528.06v-2.4M476.50 377.56v2.4M476.50 452.96v-2.4M476.50 452.96v2.4M476.50 528.06v-2.4M487.50 377.56v2.4M487.50 452.96v-2.4M487.50 452.96v2.4M487.50 528.06v-2.4M497.50 377.56v2.4M497.50 452.96v-2.4M497.50 452.96v2.4M497.50 528.06v-2.4M507.50 377.56v5.5M507.50 452.96v-5.5M507.50 452.96v5.5M507.50 528.06v-5.5M517.50 377.56v2.4M517.50 452.96v-2.4M517.50 452.96v2.4M517.50 528.06v-2.4M527.50 377.56v2.4M527.50 452.96v-2.4M527.50 452.96v2.4M527.50 528.06v-2.4M538.50 377.56v2.4M538.50 452.96v-2.4M538.50 452.96v2.4M538.50 528.06v-2.4M548.50 377.56v2.4M548.50 452.96v-2.4M548.50 452.96v2.4M548.50 528.06v-2.4M558.50 377.56v5.5M558.50 452.96v-5.5M558.50 452.96v5.5M558.50 528.06v-5.5M568.50 377.56v2.4M568.50 452.96v-2.4M568.50 452.96v2.4M568.50 528.06v-2.4M578.50 377.56v2.4M578.50 452.96v-2.4M578.50 452.96v2.4M578.50 528.06v-2.4M589.50 377.56v2.4M589.50 452.96v-2.4M589.50 452.96v2.4M589.50 528.06v-2.4M415.64 451.08h2.4M599.31 451.08h-2.4M415.64 449.19h2.4M599.31 449.19h-2.4M415.64 447.31h2.4M599.31 447.31h-2.4M415.64 445.42h2.4M599.31 445.42h-2.4M415.64 443.54h5.5M599.31 443.54h-5.5M415.64 441.65h2.4M599.31 441.65h-2.4M415.64 439.77h2.4M599.31 439.77h-2.4M415.64 437.88h2.4M599.31 437.88h-2.4M415.64 436.00h2.4M599.31 436.00h-2.4M415.64 434.11h5.5M599.31 434.11h-5.5M415.64 432.23h2.4M599.31 432.23h-2.4M415.64 430.34h2.4M599.31 430.34h-2.4M415.64 428.46h2.4M599.31 428.46h-2.4M415.64 426.57h2.4M599.31 426.57h-2.4M415.64 424.69h5.5M599.31 424.69h-5.5M415.64 422.80h2.4M599.31 422.80h-2.4M415.64 420.92h2.4M599.31 420.92h-2.4M415.64 419.03h2.4M599.31 419.03h-2.4M415.64 417.15h2.4M599.31 417.15h-2.4M415.64 415.26h5.5M599.31 415.26h-5.5M415.64 413.38h2.4M599.31 413.38h-2.4M415.64 411.49h2.4M599.31 411.49h-2.4M415.64 409.61h2.4M599.31 409.61h-2.4M415.64 407.72h2.4M599.31 407.72h-2.4M415.64 405.84h5.5M599.31 405.84h-5.5M415.64 403.95h2.4M599.31 403.95h-2.4M415.64 402.07h2.4M599.31 402.07h-2.4M415.64 400.18h2.4M599.31 400.18h-2.4M415.64 398.30h2.4M599.31 398.30h-2.4M415.64 396.41h5.5M599.31 396.41h-5.5M415.64 394.53h2.4M599.31 394.53h-2.4M415.64 392.64h2.4M599.31 392.64h-2.4M415.64 390.76h2.4M599.31 390.76h-2.4M415.64 388.87h2.4M599.31 388.87h-2.4M415.64 386.99h5.5M599.31 386.99h-5.5M415.64 385.10h2.4M599.31 385.10h-2.4M415.64 383.22h2.4M599.31 383.22h-2.4M415.64 381.33h2.4M599.31 381.33h-2.4M415.64 379.45h2.4M599.31 379.45h-2.4M415.64 524.65h2.4M599.31 524.65h-2.4M415.64 521.23h2.4M599.31 521.23h-2.4M415.64 517.82h5.5M599.31 517.82h-5.5M415.64 514.41h2.4M599.31 514.41h-2.4M415.64 510.99h2.4M599.31 510.99h-2.4M415.64 507.58h2.4M599.31 507.58h-2.4M415.64 504.16h5.5M599.31 504.16h-5.5M415.64 500.75h2.4M599.31 500.75h-2.4M415.64 497.34h2.4M599.31 497.34h-2.4M415.64 493.92h2.4M599.31 493.92h-2.4M415.64 490.51h5.5M599.31 490.51h-5.5M415.64 487.10h2.4M599.31 487.10h-2.4M415.64 483.68h2.4M599.31 483.68h-2.4M415.64 480.27h2.4M599.31 480.27h-2.4M415.64 476.86h5.5M599.31 476.86h-5.5M415.64 473.44h2.4M599.31 473.44h-2.4M415.64 470.03h2.4M599.31 470.03h-2.4M415.64 466.61h2.4M599.31 466.61h-2.4M415.64 463.20h5.5M599.31 463.20h-5.5M415.64 459.79h2.4M599.31 459.79h-2.4M415.64 456.37h2.4M599.31 456.37h-2.4M58.50 565.89v2.4M58.50 641.29v-2.4M58.50 641.29v2.4M58.50 716.39v-2.4M68.50 565.89v2.4M68.50 641.29v-2.4M68.50 641.29v2.4M68.50 716.39v-2.4M78.50 565.89v2.4M78.50 641.29v-2.4M78.50 641.29v2.4M78.50 716.39v-2.4M89.50 565.89v5.5M89.50 641.29v-5.5M89.50 641.29v5.5M89.50 716.39v-5.5M99.50 565.89v2.4M99.50 641.29v-2.4M99.50 641.29v2.4M99.50 716.39v-2.4M109.50 565.89v2.4M109.50 641.29v-2.4M109.50 641.29v2.4M109.50 716.39v-2.4M119.50 565.89v2.4M119.50 641.29v-2.4M119.50 641.29v2.4M119.50 716.39v-2.4M129.50 565.89v2.4M129.50 641.29v-2.4M129.50 641.29v2.4M129.50 716.39v-2.4M140.50 565.89v5.5M140.50 641.29v-5.5M140.50 641.29v5.5M140.50 716.39v-5.5M150.50 565.89v2.4M150.50 641.29v-2.4M150.50 641.29v2.4M150.50 716.39v-2.4M160.50 565.89v2.4M160.50 641.29v-2.4M160.50 641.29v2.4M160.50 716.39v-2.4M170.50 565.89v2.4M170.50 641.29v-2.4M170.50 641.29v2.4M170.50 716.39v-2.4M180.50 565.89v2.4M180.50 641.29v-2.4M180.50 641.29v2.4M180.50 716.39v-2.4M191.50 565.89v5.5M191.50 641.29v-5.5M191.50 641.29v5.5M191.50 716.39v-5.5M201.50 565.89v2.4M201.50 641.29v-2.4M201.50 641.29v2.4M201.50 716.39v-2.4M211.50 565.89v2.4M211.50 641.29v-2.4M211.50 641.29v2.4M211.50 716.39v-2.4M221.50 565.89v2.4M221.50 641.29v-2.4M221.50 641.29v2.4M221.50 716.39v-2.4M48.30 639.40h2.4M231.97 639.40h-2.4M48.30 637.52h2.4M231.97 637.52h-2.4M48.30 635.63h2.4M231.97 635.63h-2.4M48.30 633.75h2.4M231.97 633.75h-2.4M48.30 631.87h5.5M231.97 631.87h-5.5M48.30 629.98h2.4M231.97 629.98h-2.4M48.30 628.09h2.4M231.97 628.09h-2.4M48.30 626.21h2.4M231.97 626.21h-2.4M48.30 624.32h2.4M231.97 624.32h-2.4M48.30 622.44h5.5M231.97 622.44h-5.5M48.30 620.55h2.4M231.97 620.55h-2.4M48.30 618.67h2.4M231.97 618.67h-2.4M48.30 616.78h2.4M231.97 616.78h-2.4M48.30 614.90h2.4M231.97 614.90h-2.4M48.30 613.01h5.5M231.97 613.01h-5.5M48.30 611.13h2.4M231.97 611.13h-2.4M48.30 609.25h2.4M231.97 609.25h-2.4M48.30 607.36h2.4M231.97 607.36h-2.4M48.30 605.47h2.4M231.97 605.47h-2.4M48.30 603.59h5.5M231.97 603.59h-5.5M48.30 601.70h2.4M231.97 601.70h-2.4M48.30 599.82h2.4M231.97 599.82h-2.4M48.30 597.93h2.4M231.97 597.93h-2.4M48.30 596.05h2.4M231.97 596.05h-2.4M48.30 594.16h5.5M231.97 594.16h-5.5M48.30 592.28h2.4M231.97 592.28h-2.4M48.30 590.39h2.4M231.97 590.39h-2.4M48.30 588.51h2.4M231.97 588.51h-2.4M48.30 586.62h2.4M231.97 586.62h-2.4M48.30 584.74h5.5M231.97 584.74h-5.5M48.30 582.85h2.4M231.97 582.85h-2.4M48.30 580.97h2.4M231.97 580.97h-2.4M48.30 579.08h2.4M231.97 579.08h-2.4M48.30 577.20h2.4M231.97 577.20h-2.4M48.30 575.31h5.5M231.97 575.31h-5.5M48.30 573.43h2.4M231.97 573.43h-2.4M48.30 571.54h2.4M231.97 571.54h-2.4M48.30 569.66h2.4M231.97 569.66h-2.4M48.30 567.77h2.4M231.97 567.77h-2.4M48.30 712.98h2.4M231.97 712.98h-2.4M48.30 709.56h2.4M231.97 709.56h-2.4M48.30 706.15h5.5M231.97 706.15h-5.5M48.30 702.74h2.4M231.97 702.74h-2.4M48.30 699.32h2.4M231.97 699.32h-2.4M48.30 695.91h2.4M231.97 695.91h-2.4M48.30 692.49h5.5M231.97 692.49h-5.5M48.30 689.08h2.4M231.97 689.08h-2.4M48.30 685.67h2.4M231.97 685.67h-2.4M48.30 682.25h2.4M231.97 682.25h-2.4M48.30 678.84h5.5M231.97 678.84h-5.5M48.30 675.43h2.4M231.97 675.43h-2.4M48.30 672.01h2.4M231.97 672.01h-2.4M48.30 668.60h2.4M231.97 668.60h-2.4M48.30 665.19h5.5M231.97 665.19h-5.5M48.30 661.77h2.4M231.97 661.77h-2.4M48.30 658.36h2.4M231.97 658.36h-2.4M48.30 654.94h2.4M231.97 654.94h-2.4M48.30 651.53h5.5M231.97 651.53h-5.5M48.30 648.12h2.4M231.97 648.12h-2.4M48.30 644.70h2.4M231.97 644.70h-2.4M242.50 565.89v2.4M242.50 641.29v-2.4M242.50 641.29v2.4M242.50 716.39v-2.4M252.50 565.89v2.4M252.50 641.29v-2.4M252.50 641.29v2.4M252.50 716.39v-2.4M262.50 565.89v2.4M262.50 641.29v-2.4M262.50 641.29v2.4M262.50 716.39v-2.4M272.50 565.89v5.5M272.50 641.29v-5.5M272.50 641.29v5.5M272.50 716.39v-5.5M282.50 565.89v2.4M282.50 641.29v-2.4M282.50 641.29v2.4M282.50 716.39v-2.4M293.50 565.89v2.4M293.50 641.29v-2.4M293.50 641.29v2.4M293.50 716.39v-2.4M303.50 565.89v2.4M303.50 641.29v-2.4M303.50 641.29v2.4M303.50 716.39v-2.4M313.50 565.89v2.4M313.50 641.29v-2.4M313.50 641.29v2.4M313.50 716.39v-2.4M323.50 565.89v5.5M323.50 641.29v-5.5M323.50 641.29v5.5M323.50 716.39v-5.5M334.50 565.89v2.4M334.50 641.29v-2.4M334.50 641.29v2.4M334.50 716.39v-2.4M344.50 565.89v2.4M344.50 641.29v-2.4M344.50 641.29v2.4M344.50 716.39v-2.4M354.50 565.89v2.4M354.50 641.29v-2.4M354.50 641.29v2.4M354.50 716.39v-2.4M364.50 565.89v2.4M364.50 641.29v-2.4M364.50 641.29v2.4M364.50 716.39v-2.4M374.50 565.89v5.5M374.50 641.29v-5.5M374.50 641.29v5.5M374.50 716.39v-5.5M385.50 565.89v2.4M385.50 641.29v-2.4M385.50 641.29v2.4M385.50 716.39v-2.4M395.50 565.89v2.4M395.50 641.29v-2.4M395.50 641.29v2.4M395.50 716.39v-2.4M405.50 565.89v2.4M405.50 641.29v-2.4M405.50 641.29v2.4M405.50 716.39v-2.4M231.97 639.40h2.4M415.64 639.40h-2.4M231.97 637.52h2.4M415.64 637.52h-2.4M231.97 635.63h2.4M415.64 635.63h-2.4M231.97 633.75h2.4M415.64 633.75h-2.4M231.97 631.87h5.5M415.64 631.87h-5.5M231.97 629.98h2.4M415.64 629.98h-2.4M231.97 628.09h2.4M415.64 628.09h-2.4M231.97 626.21h2.4M415.64 626.21h-2.4M231.97 624.32h2.4M415.64 624.32h-2.4M231.97 622.44h5.5M415.64 622.44h-5.5M231.97 620.55h2.4M415.64 620.55h-2.4M231.97 618.67h2.4M415.64 618.67h-2.4M231.97 616.78h2.4M415.64 616.78h-2.4M231.97 614.90h2.4M415.64 614.90h-2.4M231.97 613.01h5.5M415.64 613.01h-5.5M231.97 611.13h2.4M415.64 611.13h-2.4M231.97 609.25h2.4M415.64 609.25h-2.4M231.97 607.36h2.4M415.64 607.36h-2.4M231.97 605.47h2.4M415.64 605.47h-2.4M231.97 603.59h5.5M415.64 603.59h-5.5M231.97 601.70h2.4M415.64 601.70h-2.4M231.97 599.82h2.4M415.64 599.82h-2.4M231.97 597.93h2.4M415.64 597.93h-2.4M231.97 596.05h2.4M415.64 596.05h-2.4M231.97 594.16h5.5M415.64 594.16h-5.5M231.97 592.28h2.4M415.64 592.28h-2.4M231.97 590.39h2.4M415.64 590.39h-2.4M231.97 588.51h2.4M415.64 588.51h-2.4M231.97 586.62h2.4M415.64 586.62h-2.4M231.97 584.74h5.5M415.64 584.74h-5.5M231.97 582.85h2.4M415.64 582.85h-2.4M231.97 580.97h2.4M415.64 580.97h-2.4M231.97 579.08h2.4M415.64 579.08h-2.4M231.97 577.20h2.4M415.64 577.20h-2.4M231.97 575.31h5.5M415.64 575.31h-5.5M231.97 573.43h2.4M415.64 573.43h-2.4M231.97 571.54h2.4M415.64 571.54h-2.4M231.97 569.66h2.4M415.64 569.66h-2.4M231.97 567.77h2.4M415.64 567.77h-2.4M231.97 712.98h2.4M415.64 712.98h-2.4M231.97 709.56h2.4M415.64 709.56h-2.4M231.97 706.15h5.5M415.64 706.15h-5.5M231.97 702.74h2.4M415.64 702.74h-2.4M231.97 699.32h2.4M415.64 699.32h-2.4M231.97 695.91h2.4M415.64 695.91h-2.4M231.97 692.49h5.5M415.64 692.49h-5.5M231.97 689.08h2.4M415.64 689.08h-2.4M231.97 685.67h2.4M415.64 685.67h-2.4M231.97 682.25h2.4M415.64 682.25h-2.4M231.97 678.84h5.5M415.64 678.84h-5.5M231.97 675.43h2.4M415.64 675.43h-2.4M231.97 672.01h2.4M415.64 672.01h-2.4M231.97 668.60h2.4M415.64 668.60h-2.4M231.97 665.19h5.5M415.64 665.19h-5.5M231.97 661.77h2.4M415.64 661.77h-2.4M231.97 658.36h2.4M415.64 658.36h-2.4M231.97 654.94h2.4M415.64 654.94h-2.4M231.97 651.53h5.5M415.64 651.53h-5.5M231.97 648.12h2.4M415.64 648.12h-2.4M231.97 644.70h2.4M415.64 644.70h-2.4M425.50 565.89v2.4M425.50 641.29v-2.4M425.50 641.29v2.4M425.50 716.39v-2.4M436.50 565.89v2.4M436.50 641.29v-2.4M436.50 641.29v2.4M436.50 716.39v-2.4M446.50 565.89v2.4M446.50 641.29v-2.4M446.50 641.29v2.4M446.50 716.39v-2.4M456.50 565.89v5.5M456.50 641.29v-5.5M456.50 641.29v5.5M456.50 716.39v-5.5M466.50 565.89v2.4M466.50 641.29v-2.4M466.50 641.29v2.4M466.50 716.39v-2.4M476.50 565.89v2.4M476.50 641.29v-2.4M476.50 641.29v2.4M476.50 716.39v-2.4M487.50 565.89v2.4M487.50 641.29v-2.4M487.50 641.29v2.4M487.50 716.39v-2.4M497.50 565.89v2.4M497.50 641.29v-2.4M497.50 641.29v2.4M497.50 716.39v-2.4M507.50 565.89v5.5M507.50 641.29v-5.5M507.50 641.29v5.5M507.50 716.39v-5.5M517.50 565.89v2.4M517.50 641.29v-2.4M517.50 641.29v2.4M517.50 716.39v-2.4M527.50 565.89v2.4M527.50 641.29v-2.4M527.50 641.29v2.4M527.50 716.39v-2.4M538.50 565.89v2.4M538.50 641.29v-2.4M538.50 641.29v2.4M538.50 716.39v-2.4M548.50 565.89v2.4M548.50 641.29v-2.4M548.50 641.29v2.4M548.50 716.39v-2.4M558.50 565.89v5.5M558.50 641.29v-5.5M558.50 641.29v5.5M558.50 716.39v-5.5M568.50 565.89v2.4M568.50 641.29v-2.4M568.50 641.29v2.4M568.50 716.39v-2.4M578.50 565.89v2.4M578.50 641.29v-2.4M578.50 641.29v2.4M578.50 716.39v-2.4M589.50 565.89v2.4M589.50 641.29v-2.4M589.50 641.29v2.4M589.50 716.39v-2.4M415.64 639.40h2.4M599.31 639.40h-2.4M415.64 637.52h2.4M599.31 637.52h-2.4M415.64 635.63h2.4M599.31 635.63h-2.4M415.64 633.75h2.4M599.31 633.75h-2.4M415.64 631.87h5.5M599.31 631.87h-5.5M415.64 629.98h2.4M599.31 629.98h-2.4M415.64 628.09h2.4M599.31 628.09h-2.4M415.64 626.21h2.4M599.31 626.21h-2.4M415.64 624.32h2.4M599.31 624.32h-2.4M415.64 622.44h5.5M599.31 622.44h-5.5M415.64 620.55h2.4M599.31 620.55h-2.4M415.64 618.67h2.4M599.31 618.67h-2.4M415.64 616.78h2.4M599.31 616.78h-2.4M415.64 614.90h2.4M599.31 614.90h-2.4M415.64 613.01h5.5M599.31 613.01h-5.5M415.64 611.13h2.4M599.31 611.13h-2.4M415.64 609.25h2.4M599.31 609.25h-2.4M415.64 607.36h2.4M599.31 607.36h-2.4M415.64 605.47h2.4M599.31 605.47h-2.4M415.64 603.59h5.5M599.31 603.59h-5.5M415.64 601.70h2.4M599.31 601.70h-2.4M415.64 599.82h2.4M599.31 599.82h-2.4M415.64 597.93h2.4M599.31 597.93h-2.4M415.64 596.05h2.4M599.31 596.05h-2.4M415.64 594.16h5.5M599.31 594.16h-5.5M415.64 592.28h2.4M599.31 592.28h-2.4M415.64 590.39h2.4M599.31 590.39h-2.4M415.64 588.51h2.4M599.31 588.51h-2.4M415.64 586.62h2.4M599.31 586.62h-2.4M415.64 584.74h5.5M599.31 584.74h-5.5M415.64 582.85h2.4M599.31 582.85h-2.4M415.64 580.97h2.4M599.31 580.97h-2.4M415.64 579.08h2.4M599.31 579.08h-2.4M415.64 577.20h2.4M599.31 577.20h-2.4M415.64 575.31h5.5M599.31 575.31h-5.5M415.64 573.43h2.4M599.31 573.43h-2.4M415.64 571.54h2.4M599.31 571.54h-2.4M415.64 569.66h2.4M599.31 569.66h-2.4M415.64 567.77h2.4M599.31 567.77h-2.4M415.64 712.98h2.4M599.31 712.98h-2.4M415.64 709.56h2.4M599.31 709.56h-2.4M415.64 706.15h5.5M599.31 706.15h-5.5M415.64 702.74h2.4M599.31 702.74h-2.4M415.64 699.32h2.4M599.31 699.32h-2.4M415.64 695.91h2.4M599.31 695.91h-2.4M415.64 692.49h5.5M599.31 692.49h-5.5M415.64 689.08h2.4M599.31 689.08h-2.4M415.64 685.67h2.4M599.31 685.67h-2.4M415.64 682.25h2.4M599.31 682.25h-2.4M415.64 678.84h5.5M599.31 678.84h-5.5M415.64 675.43h2.4M599.31 675.43h-2.4M415.64 672.01h2.4M599.31 672.01h-2.4M415.64 668.60h2.4M599.31 668.60h-2.4M415.64 665.19h5.5M599.31 665.19h-5.5M415.64 661.77h2.4M599.31 661.77h-2.4M415.64 658.36h2.4M599.31 658.36h-2.4M415.64 654.94h2.4M599.31 654.94h-2.4M415.64 651.53h5.5M599.31 651.53h-5.5M415.64 648.12h2.4M599.31 648.12h-2.4M415.64 644.70h2.4M599.31 644.70h-2.4" stroke="#4a4a4a" stroke-width="1.0" fill="none"/><g clip-path="url(#cs00)" fill="#fff" stroke-width="1.0"><path d="M133.5 38.5V49.5M129.8 38.5h7.5M129.8 49.5h7.5" stroke="#3a3acc"/><rect x="131.5" y="42.5" width="4" height="4" rx="0.9" stroke="#3a3acc" stroke-width="1.2"/><path d="M140.5 38.5V53.5M136.8 38.5h7.5M136.8 53.5h7.5" stroke="#3a3acc"/><rect x="138.5" y="44.5" width="4" height="4" rx="0.9" stroke="#3a3acc" stroke-width="1.2"/><path d="M147.5 49.5V66.5M143.8 49.5h7.5M143.8 66.5h7.5" stroke="#3a3acc"/><rect x="145.5" y="56.5" width="4" height="4" rx="0.9" stroke="#3a3acc" stroke-width="1.2"/></g><g clip-path="url(#cv00)" fill="#fff" stroke-width="1.0"><path d="M133.5 113.5V120.5M129.8 113.5h7.5M129.8 120.5h7.5" stroke="#3a3acc"/><rect x="131.5" y="114.5" width="4" height="4" rx="0.9" stroke="#3a3acc" stroke-width="1.2"/><path d="M140.5 111.5V117.5M136.8 111.5h7.5M136.8 117.5h7.5" stroke="#3a3acc"/><rect x="138.5" y="112.5" width="4" height="4" rx="0.9" stroke="#3a3acc" stroke-width="1.2"/><path d="M147.5 106.5V113.5M143.8 106.5h7.5M143.8 113.5h7.5" stroke="#3a3acc"/><rect x="145.5" y="108.5" width="4" height="4" rx="0.9" stroke="#3a3acc" stroke-width="1.2"/></g><g clip-path="url(#cs01)" fill="#fff" stroke-width="1.0"><path d="M315.5 56.5V61.5M311.8 56.5h7.5M311.8 61.5h7.5" stroke="#dc3c3c"/><rect x="313.5" y="56.5" width="4" height="4" rx="0.9" stroke="#dc3c3c" stroke-width="1.2"/><path d="M332.5 48.5V53.5M328.8 48.5h7.5M328.8 53.5h7.5" stroke="#dc3c3c"/><rect x="330.5" y="48.5" width="4" height="4" rx="0.9" stroke="#dc3c3c" stroke-width="1.2"/><path d="M346.5 55.5V62.5M342.8 55.5h7.5M342.8 62.5h7.5" stroke="#dc3c3c"/><rect x="344.5" y="57.5" width="4" height="4" rx="0.9" stroke="#dc3c3c" stroke-width="1.2"/><path d="M307.5 40.5V55.5M303.8 40.5h7.5M303.8 55.5h7.5" stroke="#3a3acc"/><rect x="305.5" y="45.5" width="4" height="4" rx="0.9" stroke="#3a3acc" stroke-width="1.2"/><path d="M340.5 54.5V70.5M336.8 54.5h7.5M336.8 70.5h7.5" stroke="#3a3acc"/><rect x="338.5" y="60.5" width="4" height="4" rx="0.9" stroke="#3a3acc" stroke-width="1.2"/></g><g clip-path="url(#cv01)" fill="#fff" stroke-width="1.0"><path d="M315.5 107.5V109.5M311.8 107.5h7.5M311.8 109.5h7.5" stroke="#dc3c3c"/><rect x="313.5" y="106.5" width="4" height="4" rx="0.9" stroke="#dc3c3c" stroke-width="1.2"/><path d="M332.5 113.5V115.5M328.8 113.5h7.5M328.8 115.5h7.5" stroke="#dc3c3c"/><rect x="330.5" y="112.5" width="4" height="4" rx="0.9" stroke="#dc3c3c" stroke-width="1.2"/><path d="M346.5 117.5V119.5M342.8 117.5h7.5M342.8 119.5h7.5" stroke="#dc3c3c"/><rect x="344.5" y="116.5" width="4" height="4" rx="0.9" stroke="#dc3c3c" stroke-width="1.2"/><path d="M307.5 110.5V117.5M303.8 110.5h7.5M303.8 117.5h7.5" stroke="#3a3acc"/><rect x="305.5" y="111.5" width="4" height="4" rx="0.9" stroke="#3a3acc" stroke-width="1.2"/><path d="M340.5 109.5V116.5M336.8 109.5h7.5M336.8 116.5h7.5" stroke="#3a3acc"/><rect x="338.5" y="111.5" width="4" height="4" rx="0.9" stroke="#3a3acc" stroke-width="1.2"/></g><g clip-path="url(#cs02)" fill="#fff" stroke-width="1.0"><path d="M478.5 65.5V74.5M474.8 65.5h7.5M474.8 74.5h7.5" stroke="#34903a"/><rect x="476.5" y="68.5" width="4" height="4" rx="0.9" stroke="#34903a" stroke-width="1.2"/><path d="M491.5 59.5V65.5M487.8 59.5h7.5M487.8 65.5h7.5" stroke="#34903a"/><rect x="489.5" y="60.5" width="4" height="4" rx="0.9" stroke="#34903a" stroke-width="1.2"/><path d="M507.5 52.5V54.5M503.8 52.5h7.5M503.8 54.5h7.5" stroke="#34903a"/><rect x="505.5" y="51.5" width="4" height="4" rx="0.9" stroke="#34903a" stroke-width="1.2"/><path d="M515.5 57.5V59.5M511.8 57.5h7.5M511.8 59.5h7.5" stroke="#34903a"/><rect x="513.5" y="56.5" width="4" height="4" rx="0.9" stroke="#34903a" stroke-width="1.2"/><path d="M524.5 52.5V58.5M520.8 52.5h7.5M520.8 58.5h7.5" stroke="#34903a"/><rect x="522.5" y="52.5" width="4" height="4" rx="0.9" stroke="#34903a" stroke-width="1.2"/><path d="M536.5 67.5V74.5M532.8 67.5h7.5M532.8 74.5h7.5" stroke="#34903a"/><rect x="534.5" y="69.5" width="4" height="4" rx="0.9" stroke="#34903a" stroke-width="1.2"/><path d="M466.5 67.5V72.5M462.8 67.5h7.5M462.8 72.5h7.5" stroke="#dc3c3c"/><rect x="464.5" y="67.5" width="4" height="4" rx="0.9" stroke="#dc3c3c" stroke-width="1.2"/><path d="M485.5 62.5V69.5M481.8 62.5h7.5M481.8 69.5h7.5" stroke="#dc3c3c"/><rect x="483.5" y="64.5" width="4" height="4" rx="0.9" stroke="#dc3c3c" stroke-width="1.2"/><path d="M497.5 52.5V54.5M493.8 52.5h7.5M493.8 54.5h7.5" stroke="#dc3c3c"/><rect x="495.5" y="51.5" width="4" height="4" rx="0.9" stroke="#dc3c3c" stroke-width="1.2"/><path d="M515.5 51.5V53.5M511.8 51.5h7.5M511.8 53.5h7.5" stroke="#dc3c3c"/><rect x="513.5" y="50.5" width="4" height="4" rx="0.9" stroke="#dc3c3c" stroke-width="1.2"/><path d="M529.5 58.5V60.5M525.8 58.5h7.5M525.8 60.5h7.5" stroke="#dc3c3c"/><rect x="527.5" y="57.5" width="4" height="4" rx="0.9" stroke="#dc3c3c" stroke-width="1.2"/><path d="M548.5 69.5V74.5M544.8 69.5h7.5M544.8 74.5h7.5" stroke="#dc3c3c"/><rect x="546.5" y="69.5" width="4" height="4" rx="0.9" stroke="#dc3c3c" stroke-width="1.2"/><path d="M478.5 44.5V53.5M474.8 44.5h7.5M474.8 53.5h7.5" stroke="#3a3acc"/><rect x="476.5" y="46.5" width="4" height="4" rx="0.9" stroke="#3a3acc" stroke-width="1.2"/><path d="M490.5 54.5V61.5M486.8 54.5h7.5M486.8 61.5h7.5" stroke="#3a3acc"/><rect x="488.5" y="55.5" width="4" height="4" rx="0.9" stroke="#3a3acc" stroke-width="1.2"/><path d="M500.5 51.5V59.5M496.8 51.5h7.5M496.8 59.5h7.5" stroke="#3a3acc"/><rect x="498.5" y="53.5" width="4" height="4" rx="0.9" stroke="#3a3acc" stroke-width="1.2"/><path d="M507.5 57.5V67.5M503.8 57.5h7.5M503.8 67.5h7.5" stroke="#3a3acc"/><rect x="505.5" y="59.5" width="4" height="4" rx="0.9" stroke="#3a3acc" stroke-width="1.2"/><path d="M514.5 65.5V73.5M510.8 65.5h7.5M510.8 73.5h7.5" stroke="#3a3acc"/><rect x="512.5" y="66.5" width="4" height="4" rx="0.9" stroke="#3a3acc" stroke-width="1.2"/><path d="M524.5 49.5V55.5M520.8 49.5h7.5M520.8 55.5h7.5" stroke="#3a3acc"/><rect x="522.5" y="50.5" width="4" height="4" rx="0.9" stroke="#3a3acc" stroke-width="1.2"/><path d="M536.5 43.5V56.5M532.8 43.5h7.5M532.8 56.5h7.5" stroke="#3a3acc"/><rect x="534.5" y="47.5" width="4" height="4" rx="0.9" stroke="#3a3acc" stroke-width="1.2"/></g><g clip-path="url(#cv02)" fill="#fff" stroke-width="1.0"><path d="M478.5 123.5V129.5M474.8 123.5h7.5M474.8 129.5h7.5" stroke="#34903a"/><rect x="476.5" y="124.5" width="4" height="4" rx="0.9" stroke="#34903a" stroke-width="1.2"/><path d="M491.5 120.5V122.5M487.8 120.5h7.5M487.8 122.5h7.5" stroke="#34903a"/><rect x="489.5" y="119.5" width="4" height="4" rx="0.9" stroke="#34903a" stroke-width="1.2"/><path d="M500.5 112.5V114.5M496.8 112.5h7.5M496.8 114.5h7.5" stroke="#34903a"/><rect x="498.5" y="111.5" width="4" height="4" rx="0.9" stroke="#34903a" stroke-width="1.2"/><path d="M507.5 113.5V115.5M503.8 113.5h7.5M503.8 115.5h7.5" stroke="#34903a"/><rect x="505.5" y="112.5" width="4" height="4" rx="0.9" stroke="#34903a" stroke-width="1.2"/><path d="M523.5 106.5V108.5M519.8 106.5h7.5M519.8 108.5h7.5" stroke="#34903a"/><rect x="521.5" y="105.5" width="4" height="4" rx="0.9" stroke="#34903a" stroke-width="1.2"/><path d="M465.5 125.5V127.5M461.8 125.5h7.5M461.8 127.5h7.5" stroke="#dc3c3c"/><rect x="463.5" y="124.5" width="4" height="4" rx="0.9" stroke="#dc3c3c" stroke-width="1.2"/><path d="M485.5 125.5V127.5M481.8 125.5h7.5M481.8 127.5h7.5" stroke="#dc3c3c"/><rect x="483.5" y="124.5" width="4" height="4" rx="0.9" stroke="#dc3c3c" stroke-width="1.2"/><path d="M497.5 116.5V118.5M493.8 116.5h7.5M493.8 118.5h7.5" stroke="#dc3c3c"/><rect x="495.5" y="115.5" width="4" height="4" rx="0.9" stroke="#dc3c3c" stroke-width="1.2"/><path d="M516.5 110.5V112.5M512.8 110.5h7.5M512.8 112.5h7.5" stroke="#dc3c3c"/><rect x="514.5" y="109.5" width="4" height="4" rx="0.9" stroke="#dc3c3c" stroke-width="1.2"/><path d="M529.5 103.5V105.5M525.8 103.5h7.5M525.8 105.5h7.5" stroke="#dc3c3c"/><rect x="527.5" y="102.5" width="4" height="4" rx="0.9" stroke="#dc3c3c" stroke-width="1.2"/><path d="M549.5 96.5V98.5M545.8 96.5h7.5M545.8 98.5h7.5" stroke="#dc3c3c"/><rect x="547.5" y="95.5" width="4" height="4" rx="0.9" stroke="#dc3c3c" stroke-width="1.2"/><path d="M478.5 122.5V128.5M474.8 122.5h7.5M474.8 128.5h7.5" stroke="#3a3acc"/><rect x="476.5" y="123.5" width="4" height="4" rx="0.9" stroke="#3a3acc" stroke-width="1.2"/><path d="M491.5 121.5V125.5M487.8 121.5h7.5M487.8 125.5h7.5" stroke="#3a3acc"/><rect x="489.5" y="121.5" width="4" height="4" rx="0.9" stroke="#3a3acc" stroke-width="1.2"/><path d="M500.5 115.5V120.5M496.8 115.5h7.5M496.8 120.5h7.5" stroke="#3a3acc"/><rect x="498.5" y="116.5" width="4" height="4" rx="0.9" stroke="#3a3acc" stroke-width="1.2"/><path d="M507.5 109.5V114.5M503.8 109.5h7.5M503.8 114.5h7.5" stroke="#3a3acc"/><rect x="505.5" y="109.5" width="4" height="4" rx="0.9" stroke="#3a3acc" stroke-width="1.2"/><path d="M514.5 106.5V111.5M510.8 106.5h7.5M510.8 111.5h7.5" stroke="#3a3acc"/><rect x="512.5" y="106.5" width="4" height="4" rx="0.9" stroke="#3a3acc" stroke-width="1.2"/><path d="M523.5 103.5V107.5M519.8 103.5h7.5M519.8 107.5h7.5" stroke="#3a3acc"/><rect x="521.5" y="103.5" width="4" height="4" rx="0.9" stroke="#3a3acc" stroke-width="1.2"/><path d="M536.5 100.5V105.5M532.8 100.5h7.5M532.8 105.5h7.5" stroke="#3a3acc"/><rect x="534.5" y="100.5" width="4" height="4" rx="0.9" stroke="#3a3acc" stroke-width="1.2"/></g><g clip-path="url(#cs10)" fill="#fff" stroke-width="1.0"><path d="M111.5 239.5V245.5M107.8 239.5h7.5M107.8 245.5h7.5" stroke="#34903a"/><rect x="109.5" y="240.5" width="4" height="4" rx="0.9" stroke="#34903a" stroke-width="1.2"/><path d="M133.5 235.5V241.5M129.8 235.5h7.5M129.8 241.5h7.5" stroke="#34903a"/><rect x="131.5" y="236.5" width="4" height="4" rx="0.9" stroke="#34903a" stroke-width="1.2"/><path d="M139.5 238.5V244.5M135.8 238.5h7.5M135.8 244.5h7.5" stroke="#34903a"/><rect x="137.5" y="239.5" width="4" height="4" rx="0.9" stroke="#34903a" stroke-width="1.2"/><path d="M156.5 235.5V240.5M152.8 235.5h7.5M152.8 240.5h7.5" stroke="#34903a"/><rect x="154.5" y="236.5" width="4" height="4" rx="0.9" stroke="#34903a" stroke-width="1.2"/><path d="M168.5 248.5V256.5M164.8 248.5h7.5M164.8 256.5h7.5" stroke="#34903a"/><rect x="166.5" y="250.5" width="4" height="4" rx="0.9" stroke="#34903a" stroke-width="1.2"/><path d="M111.5 246.5V253.5M107.8 246.5h7.5M107.8 253.5h7.5" stroke="#3a3acc"/><rect x="109.5" y="247.5" width="4" height="4" rx="0.9" stroke="#3a3acc" stroke-width="1.2"/><path d="M123.5 237.5V243.5M119.8 237.5h7.5M119.8 243.5h7.5" stroke="#3a3acc"/><rect x="121.5" y="238.5" width="4" height="4" rx="0.9" stroke="#3a3acc" stroke-width="1.2"/><path d="M133.5 231.5V239.5M129.8 231.5h7.5M129.8 239.5h7.5" stroke="#3a3acc"/><rect x="131.5" y="233.5" width="4" height="4" rx="0.9" stroke="#3a3acc" stroke-width="1.2"/><path d="M139.5 235.5V240.5M135.8 235.5h7.5M135.8 240.5h7.5" stroke="#3a3acc"/><rect x="137.5" y="236.5" width="4" height="4" rx="0.9" stroke="#3a3acc" stroke-width="1.2"/><path d="M146.5 238.5V243.5M142.8 238.5h7.5M142.8 243.5h7.5" stroke="#3a3acc"/><rect x="144.5" y="239.5" width="4" height="4" rx="0.9" stroke="#3a3acc" stroke-width="1.2"/><path d="M156.5 239.5V244.5M152.8 239.5h7.5M152.8 244.5h7.5" stroke="#3a3acc"/><rect x="154.5" y="239.5" width="4" height="4" rx="0.9" stroke="#3a3acc" stroke-width="1.2"/><path d="M168.5 241.5V243.5M164.8 241.5h7.5M164.8 243.5h7.5" stroke="#3a3acc"/><rect x="166.5" y="240.5" width="4" height="4" rx="0.9" stroke="#3a3acc" stroke-width="1.2"/></g><g clip-path="url(#cv10)" fill="#fff" stroke-width="1.0"><path d="M111.5 313.5V315.5M107.8 313.5h7.5M107.8 315.5h7.5" stroke="#34903a"/><rect x="109.5" y="312.5" width="4" height="4" rx="0.9" stroke="#34903a" stroke-width="1.2"/><path d="M140.5 300.5V302.5M136.8 300.5h7.5M136.8 302.5h7.5" stroke="#34903a"/><rect x="138.5" y="299.5" width="4" height="4" rx="0.9" stroke="#34903a" stroke-width="1.2"/><path d="M111.5 316.5V318.5M107.8 316.5h7.5M107.8 318.5h7.5" stroke="#3a3acc"/><rect x="109.5" y="315.5" width="4" height="4" rx="0.9" stroke="#3a3acc" stroke-width="1.2"/><path d="M123.5 310.5V312.5M119.8 310.5h7.5M119.8 312.5h7.5" stroke="#3a3acc"/><rect x="121.5" y="309.5" width="4" height="4" rx="0.9" stroke="#3a3acc" stroke-width="1.2"/><path d="M133.5 306.5V308.5M129.8 306.5h7.5M129.8 308.5h7.5" stroke="#3a3acc"/><rect x="131.5" y="305.5" width="4" height="4" rx="0.9" stroke="#3a3acc" stroke-width="1.2"/><path d="M140.5 298.5V300.5M136.8 298.5h7.5M136.8 300.5h7.5" stroke="#3a3acc"/><rect x="138.5" y="297.5" width="4" height="4" rx="0.9" stroke="#3a3acc" stroke-width="1.2"/><path d="M146.5 295.5V297.5M142.8 295.5h7.5M142.8 297.5h7.5" stroke="#3a3acc"/><rect x="144.5" y="294.5" width="4" height="4" rx="0.9" stroke="#3a3acc" stroke-width="1.2"/><path d="M156.5 293.5V295.5M152.8 293.5h7.5M152.8 295.5h7.5" stroke="#3a3acc"/><rect x="154.5" y="292.5" width="4" height="4" rx="0.9" stroke="#3a3acc" stroke-width="1.2"/><path d="M168.5 287.5V289.5M164.8 287.5h7.5M164.8 289.5h7.5" stroke="#3a3acc"/><rect x="166.5" y="286.5" width="4" height="4" rx="0.9" stroke="#3a3acc" stroke-width="1.2"/></g><g clip-path="url(#cs11)" fill="#fff" stroke-width="1.0"><path d="M282.5 251.5V253.5M278.8 251.5h7.5M278.8 253.5h7.5" stroke="#dc3c3c"/><rect x="280.5" y="250.5" width="4" height="4" rx="0.9" stroke="#dc3c3c" stroke-width="1.2"/><path d="M301.5 246.5V248.5M297.8 246.5h7.5M297.8 248.5h7.5" stroke="#dc3c3c"/><rect x="299.5" y="245.5" width="4" height="4" rx="0.9" stroke="#dc3c3c" stroke-width="1.2"/><path d="M314.5 241.5V243.5M310.8 241.5h7.5M310.8 243.5h7.5" stroke="#dc3c3c"/><rect x="312.5" y="240.5" width="4" height="4" rx="0.9" stroke="#dc3c3c" stroke-width="1.2"/><path d="M323.5 240.5V242.5M319.8 240.5h7.5M319.8 242.5h7.5" stroke="#dc3c3c"/><rect x="321.5" y="239.5" width="4" height="4" rx="0.9" stroke="#dc3c3c" stroke-width="1.2"/><path d="M333.5 241.5V243.5M329.8 241.5h7.5M329.8 243.5h7.5" stroke="#dc3c3c"/><rect x="331.5" y="240.5" width="4" height="4" rx="0.9" stroke="#dc3c3c" stroke-width="1.2"/><path d="M346.5 245.5V247.5M342.8 245.5h7.5M342.8 247.5h7.5" stroke="#dc3c3c"/><rect x="344.5" y="244.5" width="4" height="4" rx="0.9" stroke="#dc3c3c" stroke-width="1.2"/><path d="M364.5 250.5V257.5M360.8 250.5h7.5M360.8 257.5h7.5" stroke="#dc3c3c"/><rect x="362.5" y="251.5" width="4" height="4" rx="0.9" stroke="#dc3c3c" stroke-width="1.2"/><path d="M294.5 240.5V248.5M290.8 240.5h7.5M290.8 248.5h7.5" stroke="#3a3acc"/><rect x="292.5" y="242.5" width="4" height="4" rx="0.9" stroke="#3a3acc" stroke-width="1.2"/><path d="M307.5 238.5V243.5M303.8 238.5h7.5M303.8 243.5h7.5" stroke="#3a3acc"/><rect x="305.5" y="238.5" width="4" height="4" rx="0.9" stroke="#3a3acc" stroke-width="1.2"/><path d="M316.5 239.5V245.5M312.8 239.5h7.5M312.8 245.5h7.5" stroke="#3a3acc"/><rect x="314.5" y="240.5" width="4" height="4" rx="0.9" stroke="#3a3acc" stroke-width="1.2"/><path d="M323.5 239.5V247.5M319.8 239.5h7.5M319.8 247.5h7.5" stroke="#3a3acc"/><rect x="321.5" y="241.5" width="4" height="4" rx="0.9" stroke="#3a3acc" stroke-width="1.2"/><path d="M330.5 238.5V244.5M326.8 238.5h7.5M326.8 244.5h7.5" stroke="#3a3acc"/><rect x="328.5" y="239.5" width="4" height="4" rx="0.9" stroke="#3a3acc" stroke-width="1.2"/><path d="M340.5 244.5V250.5M336.8 244.5h7.5M336.8 250.5h7.5" stroke="#3a3acc"/><rect x="338.5" y="245.5" width="4" height="4" rx="0.9" stroke="#3a3acc" stroke-width="1.2"/><path d="M352.5 236.5V242.5M348.8 236.5h7.5M348.8 242.5h7.5" stroke="#3a3acc"/><rect x="350.5" y="237.5" width="4" height="4" rx="0.9" stroke="#3a3acc" stroke-width="1.2"/></g><g clip-path="url(#cv11)" fill="#fff" stroke-width="1.0"><path d="M282.5 292.5V294.5M278.8 292.5h7.5M278.8 294.5h7.5" stroke="#dc3c3c"/><rect x="280.5" y="291.5" width="4" height="4" rx="0.9" stroke="#dc3c3c" stroke-width="1.2"/><path d="M301.5 298.5V300.5M297.8 298.5h7.5M297.8 300.5h7.5" stroke="#dc3c3c"/><rect x="299.5" y="297.5" width="4" height="4" rx="0.9" stroke="#dc3c3c" stroke-width="1.2"/><path d="M315.5 298.5V300.5M311.8 298.5h7.5M311.8 300.5h7.5" stroke="#dc3c3c"/><rect x="313.5" y="297.5" width="4" height="4" rx="0.9" stroke="#dc3c3c" stroke-width="1.2"/><path d="M323.5 301.5V303.5M319.8 301.5h7.5M319.8 303.5h7.5" stroke="#dc3c3c"/><rect x="321.5" y="300.5" width="4" height="4" rx="0.9" stroke="#dc3c3c" stroke-width="1.2"/><path d="M332.5 303.5V305.5M328.8 303.5h7.5M328.8 305.5h7.5" stroke="#dc3c3c"/><rect x="330.5" y="302.5" width="4" height="4" rx="0.9" stroke="#dc3c3c" stroke-width="1.2"/><path d="M346.5 305.5V307.5M342.8 305.5h7.5M342.8 307.5h7.5" stroke="#dc3c3c"/><rect x="344.5" y="304.5" width="4" height="4" rx="0.9" stroke="#dc3c3c" stroke-width="1.2"/><path d="M364.5 309.5V311.5M360.8 309.5h7.5M360.8 311.5h7.5" stroke="#dc3c3c"/><rect x="362.5" y="308.5" width="4" height="4" rx="0.9" stroke="#dc3c3c" stroke-width="1.2"/><path d="M294.5 294.5V299.5M290.8 294.5h7.5M290.8 299.5h7.5" stroke="#3a3acc"/><rect x="292.5" y="294.5" width="4" height="4" rx="0.9" stroke="#3a3acc" stroke-width="1.2"/><path d="M307.5 297.5V299.5M303.8 297.5h7.5M303.8 299.5h7.5" stroke="#3a3acc"/><rect x="305.5" y="296.5" width="4" height="4" rx="0.9" stroke="#3a3acc" stroke-width="1.2"/><path d="M316.5 299.5V301.5M312.8 299.5h7.5M312.8 301.5h7.5" stroke="#3a3acc"/><rect x="314.5" y="298.5" width="4" height="4" rx="0.9" stroke="#3a3acc" stroke-width="1.2"/><path d="M323.5 301.5V303.5M319.8 301.5h7.5M319.8 303.5h7.5" stroke="#3a3acc"/><rect x="321.5" y="300.5" width="4" height="4" rx="0.9" stroke="#3a3acc" stroke-width="1.2"/><path d="M330.5 298.5V303.5M326.8 298.5h7.5M326.8 303.5h7.5" stroke="#3a3acc"/><rect x="328.5" y="299.5" width="4" height="4" rx="0.9" stroke="#3a3acc" stroke-width="1.2"/><path d="M340.5 304.5V306.5M336.8 304.5h7.5M336.8 306.5h7.5" stroke="#3a3acc"/><rect x="338.5" y="303.5" width="4" height="4" rx="0.9" stroke="#3a3acc" stroke-width="1.2"/><path d="M352.5 308.5V313.5M348.8 308.5h7.5M348.8 313.5h7.5" stroke="#3a3acc"/><rect x="350.5" y="309.5" width="4" height="4" rx="0.9" stroke="#3a3acc" stroke-width="1.2"/></g><g clip-path="url(#cs12)" fill="#fff" stroke-width="1.0"><path d="M500.5 219.5V225.5M496.8 219.5h7.5M496.8 225.5h7.5" stroke="#34903a"/><rect x="498.5" y="220.5" width="4" height="4" rx="0.9" stroke="#34903a" stroke-width="1.2"/><path d="M507.5 222.5V228.5M503.8 222.5h7.5M503.8 228.5h7.5" stroke="#34903a"/><rect x="505.5" y="223.5" width="4" height="4" rx="0.9" stroke="#34903a" stroke-width="1.2"/><path d="M514.5 223.5V229.5M510.8 223.5h7.5M510.8 229.5h7.5" stroke="#34903a"/><rect x="512.5" y="224.5" width="4" height="4" rx="0.9" stroke="#34903a" stroke-width="1.2"/><path d="M500.5 226.5V238.5M496.8 226.5h7.5M496.8 238.5h7.5" stroke="#3a3acc"/><rect x="498.5" y="229.5" width="4" height="4" rx="0.9" stroke="#3a3acc" stroke-width="1.2"/><path d="M507.5 224.5V232.5M503.8 224.5h7.5M503.8 232.5h7.5" stroke="#3a3acc"/><rect x="505.5" y="227.5" width="4" height="4" rx="0.9" stroke="#3a3acc" stroke-width="1.2"/><path d="M514.5 218.5V227.5M510.8 218.5h7.5M510.8 227.5h7.5" stroke="#3a3acc"/><rect x="512.5" y="221.5" width="4" height="4" rx="0.9" stroke="#3a3acc" stroke-width="1.2"/></g><g clip-path="url(#cv12)" fill="#fff" stroke-width="1.0"><path d="M500.5 309.5V316.5M496.8 309.5h7.5M496.8 316.5h7.5" stroke="#3a3acc"/><rect x="498.5" y="310.5" width="4" height="4" rx="0.9" stroke="#3a3acc" stroke-width="1.2"/><path d="M507.5 298.5V304.5M503.8 298.5h7.5M503.8 304.5h7.5" stroke="#3a3acc"/><rect x="505.5" y="299.5" width="4" height="4" rx="0.9" stroke="#3a3acc" stroke-width="1.2"/><path d="M514.5 289.5V295.5M510.8 289.5h7.5M510.8 295.5h7.5" stroke="#3a3acc"/><rect x="512.5" y="290.5" width="4" height="4" rx="0.9" stroke="#3a3acc" stroke-width="1.2"/></g><g clip-path="url(#cs20)" fill="#fff" stroke-width="1.0"><path d="M111.5 429.5V441.5M107.8 429.5h7.5M107.8 441.5h7.5" stroke="#34903a"/><rect x="109.5" y="432.5" width="4" height="4" rx="0.9" stroke="#34903a" stroke-width="1.2"/><path d="M123.5 426.5V432.5M119.8 426.5h7.5M119.8 432.5h7.5" stroke="#34903a"/><rect x="121.5" y="427.5" width="4" height="4" rx="0.9" stroke="#34903a" stroke-width="1.2"/><path d="M140.5 429.5V435.5M136.8 429.5h7.5M136.8 435.5h7.5" stroke="#34903a"/><rect x="138.5" y="430.5" width="4" height="4" rx="0.9" stroke="#34903a" stroke-width="1.2"/><path d="M156.5 423.5V429.5M152.8 423.5h7.5M152.8 429.5h7.5" stroke="#34903a"/><rect x="154.5" y="424.5" width="4" height="4" rx="0.9" stroke="#34903a" stroke-width="1.2"/><path d="M169.5 426.5V434.5M165.8 426.5h7.5M165.8 434.5h7.5" stroke="#34903a"/><rect x="167.5" y="428.5" width="4" height="4" rx="0.9" stroke="#34903a" stroke-width="1.2"/><path d="M111.5 431.5V438.5M107.8 431.5h7.5M107.8 438.5h7.5" stroke="#3a3acc"/><rect x="109.5" y="433.5" width="4" height="4" rx="0.9" stroke="#3a3acc" stroke-width="1.2"/><path d="M123.5 426.5V431.5M119.8 426.5h7.5M119.8 431.5h7.5" stroke="#3a3acc"/><rect x="121.5" y="426.5" width="4" height="4" rx="0.9" stroke="#3a3acc" stroke-width="1.2"/><path d="M133.5 427.5V432.5M129.8 427.5h7.5M129.8 432.5h7.5" stroke="#3a3acc"/><rect x="131.5" y="427.5" width="4" height="4" rx="0.9" stroke="#3a3acc" stroke-width="1.2"/><path d="M140.5 427.5V432.5M136.8 427.5h7.5M136.8 432.5h7.5" stroke="#3a3acc"/><rect x="138.5" y="427.5" width="4" height="4" rx="0.9" stroke="#3a3acc" stroke-width="1.2"/><path d="M147.5 427.5V432.5M143.8 427.5h7.5M143.8 432.5h7.5" stroke="#3a3acc"/><rect x="145.5" y="427.5" width="4" height="4" rx="0.9" stroke="#3a3acc" stroke-width="1.2"/><path d="M156.5 425.5V430.5M152.8 425.5h7.5M152.8 430.5h7.5" stroke="#3a3acc"/><rect x="154.5" y="426.5" width="4" height="4" rx="0.9" stroke="#3a3acc" stroke-width="1.2"/><path d="M169.5 429.5V435.5M165.8 429.5h7.5M165.8 435.5h7.5" stroke="#3a3acc"/><rect x="167.5" y="430.5" width="4" height="4" rx="0.9" stroke="#3a3acc" stroke-width="1.2"/></g><g clip-path="url(#cv20)" fill="#fff" stroke-width="1.0"><path d="M111.5 493.5V499.5M107.8 493.5h7.5M107.8 499.5h7.5" stroke="#34903a"/><rect x="109.5" y="494.5" width="4" height="4" rx="0.9" stroke="#34903a" stroke-width="1.2"/><path d="M123.5 492.5V494.5M119.8 492.5h7.5M119.8 494.5h7.5" stroke="#34903a"/><rect x="121.5" y="491.5" width="4" height="4" rx="0.9" stroke="#34903a" stroke-width="1.2"/><path d="M133.5 489.5V491.5M129.8 489.5h7.5M129.8 491.5h7.5" stroke="#34903a"/><rect x="131.5" y="488.5" width="4" height="4" rx="0.9" stroke="#34903a" stroke-width="1.2"/><path d="M147.5 487.5V489.5M143.8 487.5h7.5M143.8 489.5h7.5" stroke="#34903a"/><rect x="145.5" y="486.5" width="4" height="4" rx="0.9" stroke="#34903a" stroke-width="1.2"/><path d="M111.5 496.5V502.5M107.8 496.5h7.5M107.8 502.5h7.5" stroke="#3a3acc"/><rect x="109.5" y="497.5" width="4" height="4" rx="0.9" stroke="#3a3acc" stroke-width="1.2"/><path d="M123.5 494.5V496.5M119.8 494.5h7.5M119.8 496.5h7.5" stroke="#3a3acc"/><rect x="121.5" y="493.5" width="4" height="4" rx="0.9" stroke="#3a3acc" stroke-width="1.2"/><path d="M133.5 488.5V490.5M129.8 488.5h7.5M129.8 490.5h7.5" stroke="#3a3acc"/><rect x="131.5" y="487.5" width="4" height="4" rx="0.9" stroke="#3a3acc" stroke-width="1.2"/><path d="M140.5 486.5V488.5M136.8 486.5h7.5M136.8 488.5h7.5" stroke="#3a3acc"/><rect x="138.5" y="485.5" width="4" height="4" rx="0.9" stroke="#3a3acc" stroke-width="1.2"/><path d="M147.5 485.5V487.5M143.8 485.5h7.5M143.8 487.5h7.5" stroke="#3a3acc"/><rect x="145.5" y="484.5" width="4" height="4" rx="0.9" stroke="#3a3acc" stroke-width="1.2"/><path d="M156.5 487.5V489.5M152.8 487.5h7.5M152.8 489.5h7.5" stroke="#3a3acc"/><rect x="154.5" y="486.5" width="4" height="4" rx="0.9" stroke="#3a3acc" stroke-width="1.2"/><path d="M169.5 486.5V488.5M165.8 486.5h7.5M165.8 488.5h7.5" stroke="#3a3acc"/><rect x="167.5" y="485.5" width="4" height="4" rx="0.9" stroke="#3a3acc" stroke-width="1.2"/></g><g clip-path="url(#cs21)" fill="#fff" stroke-width="1.0"><path d="M295.5 427.5V439.5M291.8 427.5h7.5M291.8 439.5h7.5" stroke="#34903a"/><rect x="293.5" y="434.5" width="4" height="4" rx="0.9" stroke="#34903a" stroke-width="1.2"/><path d="M307.5 421.5V429.5M303.8 421.5h7.5M303.8 429.5h7.5" stroke="#34903a"/><rect x="305.5" y="422.5" width="4" height="4" rx="0.9" stroke="#34903a" stroke-width="1.2"/><path d="M316.5 420.5V425.5M312.8 420.5h7.5M312.8 425.5h7.5" stroke="#34903a"/><rect x="314.5" y="420.5" width="4" height="4" rx="0.9" stroke="#34903a" stroke-width="1.2"/><path d="M323.5 422.5V429.5M319.8 422.5h7.5M319.8 429.5h7.5" stroke="#34903a"/><rect x="321.5" y="424.5" width="4" height="4" rx="0.9" stroke="#34903a" stroke-width="1.2"/><path d="M330.5 416.5V422.5M326.8 416.5h7.5M326.8 422.5h7.5" stroke="#34903a"/><rect x="328.5" y="417.5" width="4" height="4" rx="0.9" stroke="#34903a" stroke-width="1.2"/><path d="M340.5 415.5V423.5M336.8 415.5h7.5M336.8 423.5h7.5" stroke="#34903a"/><rect x="338.5" y="416.5" width="4" height="4" rx="0.9" stroke="#34903a" stroke-width="1.2"/><path d="M352.5 405.5V423.5M348.8 405.5h7.5M348.8 423.5h7.5" stroke="#34903a"/><rect x="350.5" y="412.5" width="4" height="4" rx="0.9" stroke="#34903a" stroke-width="1.2"/><path d="M291.5 438.5V453.5M287.8 438.5h7.5M287.8 453.5h7.5" stroke="#dc3c3c"/><rect x="289.5" y="444.5" width="4" height="4" rx="0.9" stroke="#dc3c3c" stroke-width="1.2"/><path d="M307.5 421.5V432.5M303.8 421.5h7.5M303.8 432.5h7.5" stroke="#dc3c3c"/><rect x="305.5" y="424.5" width="4" height="4" rx="0.9" stroke="#dc3c3c" stroke-width="1.2"/><path d="M323.5 399.5V406.5M319.8 399.5h7.5M319.8 406.5h7.5" stroke="#dc3c3c"/><rect x="321.5" y="402.5" width="4" height="4" rx="0.9" stroke="#dc3c3c" stroke-width="1.2"/><path d="M330.5 407.5V420.5M326.8 407.5h7.5M326.8 420.5h7.5" stroke="#dc3c3c"/><rect x="328.5" y="412.5" width="4" height="4" rx="0.9" stroke="#dc3c3c" stroke-width="1.2"/><path d="M340.5 419.5V426.5M336.8 419.5h7.5M336.8 426.5h7.5" stroke="#dc3c3c"/><rect x="338.5" y="420.5" width="4" height="4" rx="0.9" stroke="#dc3c3c" stroke-width="1.2"/><path d="M356.5 411.5V430.5M352.8 411.5h7.5M352.8 430.5h7.5" stroke="#dc3c3c"/><rect x="354.5" y="418.5" width="4" height="4" rx="0.9" stroke="#dc3c3c" stroke-width="1.2"/><path d="M295.5 439.5V451.5M291.8 439.5h7.5M291.8 451.5h7.5" stroke="#3a3acc"/><rect x="293.5" y="443.5" width="4" height="4" rx="0.9" stroke="#3a3acc" stroke-width="1.2"/><path d="M307.5 422.5V429.5M303.8 422.5h7.5M303.8 429.5h7.5" stroke="#3a3acc"/><rect x="305.5" y="423.5" width="4" height="4" rx="0.9" stroke="#3a3acc" stroke-width="1.2"/><path d="M316.5 408.5V418.5M312.8 408.5h7.5M312.8 418.5h7.5" stroke="#3a3acc"/><rect x="314.5" y="411.5" width="4" height="4" rx="0.9" stroke="#3a3acc" stroke-width="1.2"/><path d="M323.5 407.5V414.5M319.8 407.5h7.5M319.8 414.5h7.5" stroke="#3a3acc"/><rect x="321.5" y="409.5" width="4" height="4" rx="0.9" stroke="#3a3acc" stroke-width="1.2"/><path d="M330.5 420.5V428.5M326.8 420.5h7.5M326.8 428.5h7.5" stroke="#3a3acc"/><rect x="328.5" y="422.5" width="4" height="4" rx="0.9" stroke="#3a3acc" stroke-width="1.2"/><path d="M340.5 426.5V438.5M336.8 426.5h7.5M336.8 438.5h7.5" stroke="#3a3acc"/><rect x="338.5" y="431.5" width="4" height="4" rx="0.9" stroke="#3a3acc" stroke-width="1.2"/><path d="M352.5 423.5V436.5M348.8 423.5h7.5M348.8 436.5h7.5" stroke="#3a3acc"/><rect x="350.5" y="427.5" width="4" height="4" rx="0.9" stroke="#3a3acc" stroke-width="1.2"/></g><g clip-path="url(#cv21)" fill="#fff" stroke-width="1.0"><path d="M295.5 475.5V483.5M291.8 475.5h7.5M291.8 483.5h7.5" stroke="#34903a"/><rect x="293.5" y="476.5" width="4" height="4" rx="0.9" stroke="#34903a" stroke-width="1.2"/><path d="M307.5 482.5V488.5M303.8 482.5h7.5M303.8 488.5h7.5" stroke="#34903a"/><rect x="305.5" y="482.5" width="4" height="4" rx="0.9" stroke="#34903a" stroke-width="1.2"/><path d="M316.5 484.5V489.5M312.8 484.5h7.5M312.8 489.5h7.5" stroke="#34903a"/><rect x="314.5" y="484.5" width="4" height="4" rx="0.9" stroke="#34903a" stroke-width="1.2"/><path d="M331.5 491.5V496.5M327.8 491.5h7.5M327.8 496.5h7.5" stroke="#34903a"/><rect x="329.5" y="492.5" width="4" height="4" rx="0.9" stroke="#34903a" stroke-width="1.2"/><path d="M352.5 499.5V508.5M348.8 499.5h7.5M348.8 508.5h7.5" stroke="#34903a"/><rect x="350.5" y="501.5" width="4" height="4" rx="0.9" stroke="#34903a" stroke-width="1.2"/><path d="M290.5 472.5V479.5M286.8 472.5h7.5M286.8 479.5h7.5" stroke="#dc3c3c"/><rect x="288.5" y="473.5" width="4" height="4" rx="0.9" stroke="#dc3c3c" stroke-width="1.2"/><path d="M306.5 478.5V484.5M302.8 478.5h7.5M302.8 484.5h7.5" stroke="#dc3c3c"/><rect x="304.5" y="479.5" width="4" height="4" rx="0.9" stroke="#dc3c3c" stroke-width="1.2"/><path d="M323.5 485.5V490.5M319.8 485.5h7.5M319.8 490.5h7.5" stroke="#dc3c3c"/><rect x="321.5" y="486.5" width="4" height="4" rx="0.9" stroke="#dc3c3c" stroke-width="1.2"/><path d="M331.5 490.5V496.5M327.8 490.5h7.5M327.8 496.5h7.5" stroke="#dc3c3c"/><rect x="329.5" y="491.5" width="4" height="4" rx="0.9" stroke="#dc3c3c" stroke-width="1.2"/><path d="M340.5 494.5V496.5M336.8 494.5h7.5M336.8 496.5h7.5" stroke="#dc3c3c"/><rect x="338.5" y="493.5" width="4" height="4" rx="0.9" stroke="#dc3c3c" stroke-width="1.2"/><path d="M357.5 505.5V514.5M353.8 505.5h7.5M353.8 514.5h7.5" stroke="#dc3c3c"/><rect x="355.5" y="507.5" width="4" height="4" rx="0.9" stroke="#dc3c3c" stroke-width="1.2"/><path d="M295.5 473.5V480.5M291.8 473.5h7.5M291.8 480.5h7.5" stroke="#3a3acc"/><rect x="293.5" y="475.5" width="4" height="4" rx="0.9" stroke="#3a3acc" stroke-width="1.2"/><path d="M307.5 480.5V486.5M303.8 480.5h7.5M303.8 486.5h7.5" stroke="#3a3acc"/><rect x="305.5" y="481.5" width="4" height="4" rx="0.9" stroke="#3a3acc" stroke-width="1.2"/><path d="M316.5 483.5V488.5M312.8 483.5h7.5M312.8 488.5h7.5" stroke="#3a3acc"/><rect x="314.5" y="484.5" width="4" height="4" rx="0.9" stroke="#3a3acc" stroke-width="1.2"/><path d="M323.5 486.5V491.5M319.8 486.5h7.5M319.8 491.5h7.5" stroke="#3a3acc"/><rect x="321.5" y="487.5" width="4" height="4" rx="0.9" stroke="#3a3acc" stroke-width="1.2"/><path d="M331.5 492.5V497.5M327.8 492.5h7.5M327.8 497.5h7.5" stroke="#3a3acc"/><rect x="329.5" y="492.5" width="4" height="4" rx="0.9" stroke="#3a3acc" stroke-width="1.2"/><path d="M340.5 493.5V498.5M336.8 493.5h7.5M336.8 498.5h7.5" stroke="#3a3acc"/><rect x="338.5" y="494.5" width="4" height="4" rx="0.9" stroke="#3a3acc" stroke-width="1.2"/><path d="M352.5 502.5V508.5M348.8 502.5h7.5M348.8 508.5h7.5" stroke="#3a3acc"/><rect x="350.5" y="503.5" width="4" height="4" rx="0.9" stroke="#3a3acc" stroke-width="1.2"/></g><g clip-path="url(#cs22)" fill="#fff" stroke-width="1.0"><path d="M491.5 440.5V446.5M487.8 440.5h7.5M487.8 446.5h7.5" stroke="#34903a"/><rect x="489.5" y="441.5" width="4" height="4" rx="0.9" stroke="#34903a" stroke-width="1.2"/><path d="M507.5 431.5V439.5M503.8 431.5h7.5M503.8 439.5h7.5" stroke="#34903a"/><rect x="505.5" y="433.5" width="4" height="4" rx="0.9" stroke="#34903a" stroke-width="1.2"/><path d="M514.5 432.5V438.5M510.8 432.5h7.5M510.8 438.5h7.5" stroke="#34903a"/><rect x="512.5" y="433.5" width="4" height="4" rx="0.9" stroke="#34903a" stroke-width="1.2"/><path d="M466.5 444.5V449.5M462.8 444.5h7.5M462.8 449.5h7.5" stroke="#dc3c3c"/><rect x="464.5" y="444.5" width="4" height="4" rx="0.9" stroke="#dc3c3c" stroke-width="1.2"/><path d="M485.5 438.5V440.5M481.8 438.5h7.5M481.8 440.5h7.5" stroke="#dc3c3c"/><rect x="483.5" y="437.5" width="4" height="4" rx="0.9" stroke="#dc3c3c" stroke-width="1.2"/><path d="M499.5 430.5V432.5M495.8 430.5h7.5M495.8 432.5h7.5" stroke="#dc3c3c"/><rect x="497.5" y="429.5" width="4" height="4" rx="0.9" stroke="#dc3c3c" stroke-width="1.2"/><path d="M507.5 424.5V429.5M503.8 424.5h7.5M503.8 429.5h7.5" stroke="#dc3c3c"/><rect x="505.5" y="425.5" width="4" height="4" rx="0.9" stroke="#dc3c3c" stroke-width="1.2"/><path d="M516.5 428.5V433.5M512.8 428.5h7.5M512.8 433.5h7.5" stroke="#dc3c3c"/><rect x="514.5" y="429.5" width="4" height="4" rx="0.9" stroke="#dc3c3c" stroke-width="1.2"/><path d="M529.5 435.5V440.5M525.8 435.5h7.5M525.8 440.5h7.5" stroke="#dc3c3c"/><rect x="527.5" y="436.5" width="4" height="4" rx="0.9" stroke="#dc3c3c" stroke-width="1.2"/><path d="M548.5 448.5V450.5M544.8 448.5h7.5M544.8 450.5h7.5" stroke="#dc3c3c"/><rect x="546.5" y="447.5" width="4" height="4" rx="0.9" stroke="#dc3c3c" stroke-width="1.2"/><path d="M491.5 429.5V437.5M487.8 429.5h7.5M487.8 437.5h7.5" stroke="#3a3acc"/><rect x="489.5" y="431.5" width="4" height="4" rx="0.9" stroke="#3a3acc" stroke-width="1.2"/><path d="M500.5 429.5V437.5M496.8 429.5h7.5M496.8 437.5h7.5" stroke="#3a3acc"/><rect x="498.5" y="430.5" width="4" height="4" rx="0.9" stroke="#3a3acc" stroke-width="1.2"/><path d="M514.5 417.5V428.5M510.8 417.5h7.5M510.8 428.5h7.5" stroke="#3a3acc"/><rect x="512.5" y="420.5" width="4" height="4" rx="0.9" stroke="#3a3acc" stroke-width="1.2"/><path d="M523.5 428.5V434.5M519.8 428.5h7.5M519.8 434.5h7.5" stroke="#3a3acc"/><rect x="521.5" y="430.5" width="4" height="4" rx="0.9" stroke="#3a3acc" stroke-width="1.2"/></g><g clip-path="url(#cv22)" fill="#fff" stroke-width="1.0"><path d="M500.5 495.5V501.5M496.8 495.5h7.5M496.8 501.5h7.5" stroke="#34903a"/><rect x="498.5" y="496.5" width="4" height="4" rx="0.9" stroke="#34903a" stroke-width="1.2"/><path d="M507.5 484.5V489.5M503.8 484.5h7.5M503.8 489.5h7.5" stroke="#34903a"/><rect x="505.5" y="485.5" width="4" height="4" rx="0.9" stroke="#34903a" stroke-width="1.2"/><path d="M523.5 478.5V483.5M519.8 478.5h7.5M519.8 483.5h7.5" stroke="#34903a"/><rect x="521.5" y="478.5" width="4" height="4" rx="0.9" stroke="#34903a" stroke-width="1.2"/><path d="M466.5 510.5V512.5M462.8 510.5h7.5M462.8 512.5h7.5" stroke="#dc3c3c"/><rect x="464.5" y="509.5" width="4" height="4" rx="0.9" stroke="#dc3c3c" stroke-width="1.2"/><path d="M485.5 505.5V507.5M481.8 505.5h7.5M481.8 507.5h7.5" stroke="#dc3c3c"/><rect x="483.5" y="504.5" width="4" height="4" rx="0.9" stroke="#dc3c3c" stroke-width="1.2"/><path d="M499.5 495.5V497.5M495.8 495.5h7.5M495.8 497.5h7.5" stroke="#dc3c3c"/><rect x="497.5" y="494.5" width="4" height="4" rx="0.9" stroke="#dc3c3c" stroke-width="1.2"/><path d="M507.5 490.5V492.5M503.8 490.5h7.5M503.8 492.5h7.5" stroke="#dc3c3c"/><rect x="505.5" y="489.5" width="4" height="4" rx="0.9" stroke="#dc3c3c" stroke-width="1.2"/><path d="M516.5 483.5V485.5M512.8 483.5h7.5M512.8 485.5h7.5" stroke="#dc3c3c"/><rect x="514.5" y="482.5" width="4" height="4" rx="0.9" stroke="#dc3c3c" stroke-width="1.2"/><path d="M529.5 474.5V476.5M525.8 474.5h7.5M525.8 476.5h7.5" stroke="#dc3c3c"/><rect x="527.5" y="473.5" width="4" height="4" rx="0.9" stroke="#dc3c3c" stroke-width="1.2"/><path d="M548.5 467.5V469.5M544.8 467.5h7.5M544.8 469.5h7.5" stroke="#dc3c3c"/><rect x="546.5" y="466.5" width="4" height="4" rx="0.9" stroke="#dc3c3c" stroke-width="1.2"/><path d="M491.5 501.5V503.5M487.8 501.5h7.5M487.8 503.5h7.5" stroke="#3a3acc"/><rect x="489.5" y="500.5" width="4" height="4" rx="0.9" stroke="#3a3acc" stroke-width="1.2"/><path d="M500.5 493.5V499.5M496.8 493.5h7.5M496.8 499.5h7.5" stroke="#3a3acc"/><rect x="498.5" y="494.5" width="4" height="4" rx="0.9" stroke="#3a3acc" stroke-width="1.2"/><path d="M514.5 481.5V486.5M510.8 481.5h7.5M510.8 486.5h7.5" stroke="#3a3acc"/><rect x="512.5" y="482.5" width="4" height="4" rx="0.9" stroke="#3a3acc" stroke-width="1.2"/><path d="M523.5 476.5V481.5M519.8 476.5h7.5M519.8 481.5h7.5" stroke="#3a3acc"/><rect x="521.5" y="476.5" width="4" height="4" rx="0.9" stroke="#3a3acc" stroke-width="1.2"/></g><g clip-path="url(#cs30)" fill="#fff" stroke-width="1.0"><path d="M123.5 610.5V619.5M119.8 610.5h7.5M119.8 619.5h7.5" stroke="#34903a"/><rect x="121.5" y="613.5" width="4" height="4" rx="0.9" stroke="#34903a" stroke-width="1.2"/><path d="M133.5 616.5V623.5M129.8 616.5h7.5M129.8 623.5h7.5" stroke="#34903a"/><rect x="131.5" y="617.5" width="4" height="4" rx="0.9" stroke="#34903a" stroke-width="1.2"/><path d="M140.5 611.5V619.5M136.8 611.5h7.5M136.8 619.5h7.5" stroke="#34903a"/><rect x="138.5" y="613.5" width="4" height="4" rx="0.9" stroke="#34903a" stroke-width="1.2"/><path d="M156.5 610.5V617.5M152.8 610.5h7.5M152.8 617.5h7.5" stroke="#34903a"/><rect x="154.5" y="611.5" width="4" height="4" rx="0.9" stroke="#34903a" stroke-width="1.2"/><path d="M123.5 613.5V619.5M119.8 613.5h7.5M119.8 619.5h7.5" stroke="#3a3acc"/><rect x="121.5" y="614.5" width="4" height="4" rx="0.9" stroke="#3a3acc" stroke-width="1.2"/><path d="M133.5 618.5V634.5M129.8 618.5h7.5M129.8 634.5h7.5" stroke="#3a3acc"/><rect x="131.5" y="624.5" width="4" height="4" rx="0.9" stroke="#3a3acc" stroke-width="1.2"/><path d="M146.5 605.5V616.5M142.8 605.5h7.5M142.8 616.5h7.5" stroke="#3a3acc"/><rect x="144.5" y="609.5" width="4" height="4" rx="0.9" stroke="#3a3acc" stroke-width="1.2"/><path d="M156.5 616.5V627.5M152.8 616.5h7.5M152.8 627.5h7.5" stroke="#3a3acc"/><rect x="154.5" y="618.5" width="4" height="4" rx="0.9" stroke="#3a3acc" stroke-width="1.2"/></g><g clip-path="url(#cv30)" fill="#fff" stroke-width="1.0"><path d="M123.5 676.5V681.5M119.8 676.5h7.5M119.8 681.5h7.5" stroke="#34903a"/><rect x="121.5" y="676.5" width="4" height="4" rx="0.9" stroke="#34903a" stroke-width="1.2"/><path d="M133.5 673.5V679.5M129.8 673.5h7.5M129.8 679.5h7.5" stroke="#34903a"/><rect x="131.5" y="674.5" width="4" height="4" rx="0.9" stroke="#34903a" stroke-width="1.2"/><path d="M140.5 673.5V678.5M136.8 673.5h7.5M136.8 678.5h7.5" stroke="#34903a"/><rect x="138.5" y="674.5" width="4" height="4" rx="0.9" stroke="#34903a" stroke-width="1.2"/><path d="M146.5 675.5V681.5M142.8 675.5h7.5M142.8 681.5h7.5" stroke="#34903a"/><rect x="144.5" y="676.5" width="4" height="4" rx="0.9" stroke="#34903a" stroke-width="1.2"/><path d="M156.5 677.5V684.5M152.8 677.5h7.5M152.8 684.5h7.5" stroke="#34903a"/><rect x="154.5" y="679.5" width="4" height="4" rx="0.9" stroke="#34903a" stroke-width="1.2"/><path d="M123.5 677.5V679.5M119.8 677.5h7.5M119.8 679.5h7.5" stroke="#3a3acc"/><rect x="121.5" y="676.5" width="4" height="4" rx="0.9" stroke="#3a3acc" stroke-width="1.2"/><path d="M133.5 673.5V679.5M129.8 673.5h7.5M129.8 679.5h7.5" stroke="#3a3acc"/><rect x="131.5" y="674.5" width="4" height="4" rx="0.9" stroke="#3a3acc" stroke-width="1.2"/><path d="M146.5 675.5V682.5M142.8 675.5h7.5M142.8 682.5h7.5" stroke="#3a3acc"/><rect x="144.5" y="676.5" width="4" height="4" rx="0.9" stroke="#3a3acc" stroke-width="1.2"/><path d="M156.5 679.5V686.5M152.8 679.5h7.5M152.8 686.5h7.5" stroke="#3a3acc"/><rect x="154.5" y="680.5" width="4" height="4" rx="0.9" stroke="#3a3acc" stroke-width="1.2"/></g><g clip-path="url(#cs31)" fill="#fff" stroke-width="1.0"><path d="M307.5 601.5V615.5M303.8 601.5h7.5M303.8 615.5h7.5" stroke="#34903a"/><rect x="305.5" y="606.5" width="4" height="4" rx="0.9" stroke="#34903a" stroke-width="1.2"/><path d="M317.5 620.5V626.5M313.8 620.5h7.5M313.8 626.5h7.5" stroke="#34903a"/><rect x="315.5" y="621.5" width="4" height="4" rx="0.9" stroke="#34903a" stroke-width="1.2"/><path d="M323.5 623.5V632.5M319.8 623.5h7.5M319.8 632.5h7.5" stroke="#34903a"/><rect x="321.5" y="625.5" width="4" height="4" rx="0.9" stroke="#34903a" stroke-width="1.2"/><path d="M340.5 617.5V624.5M336.8 617.5h7.5M336.8 624.5h7.5" stroke="#34903a"/><rect x="338.5" y="619.5" width="4" height="4" rx="0.9" stroke="#34903a" stroke-width="1.2"/><path d="M282.5 630.5V635.5M278.8 630.5h7.5M278.8 635.5h7.5" stroke="#dc3c3c"/><rect x="280.5" y="631.5" width="4" height="4" rx="0.9" stroke="#dc3c3c" stroke-width="1.2"/><path d="M300.5 624.5V626.5M296.8 624.5h7.5M296.8 626.5h7.5" stroke="#dc3c3c"/><rect x="298.5" y="623.5" width="4" height="4" rx="0.9" stroke="#dc3c3c" stroke-width="1.2"/><path d="M314.5 624.5V626.5M310.8 624.5h7.5M310.8 626.5h7.5" stroke="#dc3c3c"/><rect x="312.5" y="623.5" width="4" height="4" rx="0.9" stroke="#dc3c3c" stroke-width="1.2"/><path d="M333.5 622.5V624.5M329.8 622.5h7.5M329.8 624.5h7.5" stroke="#dc3c3c"/><rect x="331.5" y="621.5" width="4" height="4" rx="0.9" stroke="#dc3c3c" stroke-width="1.2"/><path d="M346.5 625.5V627.5M342.8 625.5h7.5M342.8 627.5h7.5" stroke="#dc3c3c"/><rect x="344.5" y="624.5" width="4" height="4" rx="0.9" stroke="#dc3c3c" stroke-width="1.2"/><path d="M365.5 627.5V633.5M361.8 627.5h7.5M361.8 633.5h7.5" stroke="#dc3c3c"/><rect x="363.5" y="628.5" width="4" height="4" rx="0.9" stroke="#dc3c3c" stroke-width="1.2"/><path d="M307.5 620.5V628.5M303.8 620.5h7.5M303.8 628.5h7.5" stroke="#3a3acc"/><rect x="305.5" y="621.5" width="4" height="4" rx="0.9" stroke="#3a3acc" stroke-width="1.2"/><path d="M317.5 612.5V627.5M313.8 612.5h7.5M313.8 627.5h7.5" stroke="#3a3acc"/><rect x="315.5" y="618.5" width="4" height="4" rx="0.9" stroke="#3a3acc" stroke-width="1.2"/><path d="M323.5 616.5V635.5M319.8 616.5h7.5M319.8 635.5h7.5" stroke="#3a3acc"/><rect x="321.5" y="623.5" width="4" height="4" rx="0.9" stroke="#3a3acc" stroke-width="1.2"/><path d="M330.5 615.5V629.5M326.8 615.5h7.5M326.8 629.5h7.5" stroke="#3a3acc"/><rect x="328.5" y="620.5" width="4" height="4" rx="0.9" stroke="#3a3acc" stroke-width="1.2"/><path d="M340.5 623.5V638.5M336.8 623.5h7.5M336.8 638.5h7.5" stroke="#3a3acc"/><rect x="338.5" y="629.5" width="4" height="4" rx="0.9" stroke="#3a3acc" stroke-width="1.2"/></g><g clip-path="url(#cv31)" fill="#fff" stroke-width="1.0"><path d="M307.5 679.5V687.5M303.8 679.5h7.5M303.8 687.5h7.5" stroke="#34903a"/><rect x="305.5" y="681.5" width="4" height="4" rx="0.9" stroke="#34903a" stroke-width="1.2"/><path d="M330.5 669.5V678.5M326.8 669.5h7.5M326.8 678.5h7.5" stroke="#34903a"/><rect x="328.5" y="671.5" width="4" height="4" rx="0.9" stroke="#34903a" stroke-width="1.2"/><path d="M340.5 673.5V680.5M336.8 673.5h7.5M336.8 680.5h7.5" stroke="#34903a"/><rect x="338.5" y="675.5" width="4" height="4" rx="0.9" stroke="#34903a" stroke-width="1.2"/><path d="M282.5 689.5V691.5M278.8 689.5h7.5M278.8 691.5h7.5" stroke="#dc3c3c"/><rect x="280.5" y="688.5" width="4" height="4" rx="0.9" stroke="#dc3c3c" stroke-width="1.2"/><path d="M300.5 684.5V686.5M296.8 684.5h7.5M296.8 686.5h7.5" stroke="#dc3c3c"/><rect x="298.5" y="683.5" width="4" height="4" rx="0.9" stroke="#dc3c3c" stroke-width="1.2"/><path d="M314.5 678.5V680.5M310.8 678.5h7.5M310.8 680.5h7.5" stroke="#dc3c3c"/><rect x="312.5" y="677.5" width="4" height="4" rx="0.9" stroke="#dc3c3c" stroke-width="1.2"/><path d="M323.5 676.5V678.5M319.8 676.5h7.5M319.8 678.5h7.5" stroke="#dc3c3c"/><rect x="321.5" y="675.5" width="4" height="4" rx="0.9" stroke="#dc3c3c" stroke-width="1.2"/><path d="M333.5 675.5V677.5M329.8 675.5h7.5M329.8 677.5h7.5" stroke="#dc3c3c"/><rect x="331.5" y="674.5" width="4" height="4" rx="0.9" stroke="#dc3c3c" stroke-width="1.2"/><path d="M346.5 671.5V673.5M342.8 671.5h7.5M342.8 673.5h7.5" stroke="#dc3c3c"/><rect x="344.5" y="670.5" width="4" height="4" rx="0.9" stroke="#dc3c3c" stroke-width="1.2"/><path d="M365.5 667.5V669.5M361.8 667.5h7.5M361.8 669.5h7.5" stroke="#dc3c3c"/><rect x="363.5" y="666.5" width="4" height="4" rx="0.9" stroke="#dc3c3c" stroke-width="1.2"/><path d="M307.5 680.5V686.5M303.8 680.5h7.5M303.8 686.5h7.5" stroke="#3a3acc"/><rect x="305.5" y="681.5" width="4" height="4" rx="0.9" stroke="#3a3acc" stroke-width="1.2"/><path d="M317.5 680.5V686.5M313.8 680.5h7.5M313.8 686.5h7.5" stroke="#3a3acc"/><rect x="315.5" y="681.5" width="4" height="4" rx="0.9" stroke="#3a3acc" stroke-width="1.2"/><path d="M323.5 671.5V679.5M319.8 671.5h7.5M319.8 679.5h7.5" stroke="#3a3acc"/><rect x="321.5" y="673.5" width="4" height="4" rx="0.9" stroke="#3a3acc" stroke-width="1.2"/><path d="M330.5 674.5V680.5M326.8 674.5h7.5M326.8 680.5h7.5" stroke="#3a3acc"/><rect x="328.5" y="675.5" width="4" height="4" rx="0.9" stroke="#3a3acc" stroke-width="1.2"/><path d="M340.5 672.5V678.5M336.8 672.5h7.5M336.8 678.5h7.5" stroke="#3a3acc"/><rect x="338.5" y="673.5" width="4" height="4" rx="0.9" stroke="#3a3acc" stroke-width="1.2"/></g><g clip-path="url(#cs32)" fill="#fff" stroke-width="1.0"><path d="M463.5 630.5V638.5M459.8 630.5h7.5M459.8 638.5h7.5" stroke="#34903a"/><rect x="461.5" y="633.5" width="4" height="4" rx="0.9" stroke="#34903a" stroke-width="1.2"/><path d="M478.5 612.5V618.5M474.8 612.5h7.5M474.8 618.5h7.5" stroke="#34903a"/><rect x="476.5" y="613.5" width="4" height="4" rx="0.9" stroke="#34903a" stroke-width="1.2"/><path d="M490.5 616.5V621.5M486.8 616.5h7.5M486.8 621.5h7.5" stroke="#34903a"/><rect x="488.5" y="616.5" width="4" height="4" rx="0.9" stroke="#34903a" stroke-width="1.2"/><path d="M507.5 619.5V625.5M503.8 619.5h7.5M503.8 625.5h7.5" stroke="#34903a"/><rect x="505.5" y="620.5" width="4" height="4" rx="0.9" stroke="#34903a" stroke-width="1.2"/><path d="M514.5 615.5V621.5M510.8 615.5h7.5M510.8 621.5h7.5" stroke="#34903a"/><rect x="512.5" y="616.5" width="4" height="4" rx="0.9" stroke="#34903a" stroke-width="1.2"/><path d="M523.5 616.5V622.5M519.8 616.5h7.5M519.8 622.5h7.5" stroke="#34903a"/><rect x="521.5" y="617.5" width="4" height="4" rx="0.9" stroke="#34903a" stroke-width="1.2"/><path d="M536.5 611.5V617.5M532.8 611.5h7.5M532.8 617.5h7.5" stroke="#34903a"/><rect x="534.5" y="612.5" width="4" height="4" rx="0.9" stroke="#34903a" stroke-width="1.2"/><path d="M551.5 624.5V636.5M547.8 624.5h7.5M547.8 636.5h7.5" stroke="#34903a"/><rect x="549.5" y="627.5" width="4" height="4" rx="0.9" stroke="#34903a" stroke-width="1.2"/><path d="M466.5 620.5V626.5M462.8 620.5h7.5M462.8 626.5h7.5" stroke="#dc3c3c"/><rect x="464.5" y="621.5" width="4" height="4" rx="0.9" stroke="#dc3c3c" stroke-width="1.2"/><path d="M485.5 627.5V629.5M481.8 627.5h7.5M481.8 629.5h7.5" stroke="#dc3c3c"/><rect x="483.5" y="626.5" width="4" height="4" rx="0.9" stroke="#dc3c3c" stroke-width="1.2"/><path d="M498.5 622.5V627.5M494.8 622.5h7.5M494.8 627.5h7.5" stroke="#dc3c3c"/><rect x="496.5" y="622.5" width="4" height="4" rx="0.9" stroke="#dc3c3c" stroke-width="1.2"/><path d="M517.5 620.5V622.5M513.8 620.5h7.5M513.8 622.5h7.5" stroke="#dc3c3c"/><rect x="515.5" y="619.5" width="4" height="4" rx="0.9" stroke="#dc3c3c" stroke-width="1.2"/><path d="M529.5 624.5V626.5M525.8 624.5h7.5M525.8 626.5h7.5" stroke="#dc3c3c"/><rect x="527.5" y="623.5" width="4" height="4" rx="0.9" stroke="#dc3c3c" stroke-width="1.2"/><path d="M547.5 625.5V630.5M543.8 625.5h7.5M543.8 630.5h7.5" stroke="#dc3c3c"/><rect x="545.5" y="626.5" width="4" height="4" rx="0.9" stroke="#dc3c3c" stroke-width="1.2"/><path d="M463.5 612.5V620.5M459.8 612.5h7.5M459.8 620.5h7.5" stroke="#3a3acc"/><rect x="461.5" y="613.5" width="4" height="4" rx="0.9" stroke="#3a3acc" stroke-width="1.2"/><path d="M478.5 610.5V616.5M474.8 610.5h7.5M474.8 616.5h7.5" stroke="#3a3acc"/><rect x="476.5" y="612.5" width="4" height="4" rx="0.9" stroke="#3a3acc" stroke-width="1.2"/><path d="M490.5 615.5V620.5M486.8 615.5h7.5M486.8 620.5h7.5" stroke="#3a3acc"/><rect x="488.5" y="615.5" width="4" height="4" rx="0.9" stroke="#3a3acc" stroke-width="1.2"/><path d="M500.5 616.5V624.5M496.8 616.5h7.5M496.8 624.5h7.5" stroke="#3a3acc"/><rect x="498.5" y="618.5" width="4" height="4" rx="0.9" stroke="#3a3acc" stroke-width="1.2"/><path d="M507.5 623.5V633.5M503.8 623.5h7.5M503.8 633.5h7.5" stroke="#3a3acc"/><rect x="505.5" y="626.5" width="4" height="4" rx="0.9" stroke="#3a3acc" stroke-width="1.2"/><path d="M514.5 619.5V628.5M510.8 619.5h7.5M510.8 628.5h7.5" stroke="#3a3acc"/><rect x="512.5" y="622.5" width="4" height="4" rx="0.9" stroke="#3a3acc" stroke-width="1.2"/><path d="M523.5 613.5V618.5M519.8 613.5h7.5M519.8 618.5h7.5" stroke="#3a3acc"/><rect x="521.5" y="613.5" width="4" height="4" rx="0.9" stroke="#3a3acc" stroke-width="1.2"/><path d="M536.5 601.5V607.5M532.8 601.5h7.5M532.8 607.5h7.5" stroke="#3a3acc"/><rect x="534.5" y="602.5" width="4" height="4" rx="0.9" stroke="#3a3acc" stroke-width="1.2"/><path d="M552.5 608.5V616.5M548.8 608.5h7.5M548.8 616.5h7.5" stroke="#3a3acc"/><rect x="550.5" y="610.5" width="4" height="4" rx="0.9" stroke="#3a3acc" stroke-width="1.2"/></g><g clip-path="url(#cv32)" fill="#fff" stroke-width="1.0"><path d="M478.5 677.5V683.5M474.8 677.5h7.5M474.8 683.5h7.5" stroke="#34903a"/><rect x="476.5" y="678.5" width="4" height="4" rx="0.9" stroke="#34903a" stroke-width="1.2"/><path d="M490.5 678.5V683.5M486.8 678.5h7.5M486.8 683.5h7.5" stroke="#34903a"/><rect x="488.5" y="678.5" width="4" height="4" rx="0.9" stroke="#34903a" stroke-width="1.2"/><path d="M500.5 676.5V682.5M496.8 676.5h7.5M496.8 682.5h7.5" stroke="#34903a"/><rect x="498.5" y="677.5" width="4" height="4" rx="0.9" stroke="#34903a" stroke-width="1.2"/><path d="M514.5 674.5V680.5M510.8 674.5h7.5M510.8 680.5h7.5" stroke="#34903a"/><rect x="512.5" y="675.5" width="4" height="4" rx="0.9" stroke="#34903a" stroke-width="1.2"/><path d="M523.5 673.5V678.5M519.8 673.5h7.5M519.8 678.5h7.5" stroke="#34903a"/><rect x="521.5" y="674.5" width="4" height="4" rx="0.9" stroke="#34903a" stroke-width="1.2"/><path d="M536.5 677.5V683.5M532.8 677.5h7.5M532.8 683.5h7.5" stroke="#34903a"/><rect x="534.5" y="678.5" width="4" height="4" rx="0.9" stroke="#34903a" stroke-width="1.2"/><path d="M466.5 678.5V680.5M462.8 678.5h7.5M462.8 680.5h7.5" stroke="#dc3c3c"/><rect x="464.5" y="677.5" width="4" height="4" rx="0.9" stroke="#dc3c3c" stroke-width="1.2"/><path d="M485.5 678.5V680.5M481.8 678.5h7.5M481.8 680.5h7.5" stroke="#dc3c3c"/><rect x="483.5" y="677.5" width="4" height="4" rx="0.9" stroke="#dc3c3c" stroke-width="1.2"/><path d="M498.5 677.5V679.5M494.8 677.5h7.5M494.8 679.5h7.5" stroke="#dc3c3c"/><rect x="496.5" y="676.5" width="4" height="4" rx="0.9" stroke="#dc3c3c" stroke-width="1.2"/><path d="M507.5 677.5V679.5M503.8 677.5h7.5M503.8 679.5h7.5" stroke="#dc3c3c"/><rect x="505.5" y="676.5" width="4" height="4" rx="0.9" stroke="#dc3c3c" stroke-width="1.2"/><path d="M517.5 678.5V680.5M513.8 678.5h7.5M513.8 680.5h7.5" stroke="#dc3c3c"/><rect x="515.5" y="677.5" width="4" height="4" rx="0.9" stroke="#dc3c3c" stroke-width="1.2"/><path d="M529.5 678.5V680.5M525.8 678.5h7.5M525.8 680.5h7.5" stroke="#dc3c3c"/><rect x="527.5" y="677.5" width="4" height="4" rx="0.9" stroke="#dc3c3c" stroke-width="1.2"/><path d="M547.5 677.5V679.5M543.8 677.5h7.5M543.8 679.5h7.5" stroke="#dc3c3c"/><rect x="545.5" y="676.5" width="4" height="4" rx="0.9" stroke="#dc3c3c" stroke-width="1.2"/><path d="M463.5 676.5V678.5M459.8 676.5h7.5M459.8 678.5h7.5" stroke="#3a3acc"/><rect x="461.5" y="675.5" width="4" height="4" rx="0.9" stroke="#3a3acc" stroke-width="1.2"/><path d="M478.5 676.5V682.5M474.8 676.5h7.5M474.8 682.5h7.5" stroke="#3a3acc"/><rect x="476.5" y="677.5" width="4" height="4" rx="0.9" stroke="#3a3acc" stroke-width="1.2"/><path d="M490.5 677.5V682.5M486.8 677.5h7.5M486.8 682.5h7.5" stroke="#3a3acc"/><rect x="488.5" y="678.5" width="4" height="4" rx="0.9" stroke="#3a3acc" stroke-width="1.2"/><path d="M500.5 674.5V680.5M496.8 674.5h7.5M496.8 680.5h7.5" stroke="#3a3acc"/><rect x="498.5" y="675.5" width="4" height="4" rx="0.9" stroke="#3a3acc" stroke-width="1.2"/><path d="M507.5 675.5V680.5M503.8 675.5h7.5M503.8 680.5h7.5" stroke="#3a3acc"/><rect x="505.5" y="676.5" width="4" height="4" rx="0.9" stroke="#3a3acc" stroke-width="1.2"/><path d="M514.5 676.5V682.5M510.8 676.5h7.5M510.8 682.5h7.5" stroke="#3a3acc"/><rect x="512.5" y="677.5" width="4" height="4" rx="0.9" stroke="#3a3acc" stroke-width="1.2"/><path d="M523.5 677.5V682.5M519.8 677.5h7.5M519.8 682.5h7.5" stroke="#3a3acc"/><rect x="521.5" y="677.5" width="4" height="4" rx="0.9" stroke="#3a3acc" stroke-width="1.2"/><path d="M536.5 676.5V682.5M532.8 676.5h7.5M532.8 682.5h7.5" stroke="#3a3acc"/><rect x="534.5" y="677.5" width="4" height="4" rx="0.9" stroke="#3a3acc" stroke-width="1.2"/><path d="M552.5 675.5V680.5M548.8 675.5h7.5M548.8 680.5h7.5" stroke="#3a3acc"/><rect x="550.5" y="676.5" width="4" height="4" rx="0.9" stroke="#3a3acc" stroke-width="1.2"/></g><path d="M48.30 0.90H599.31V151.40H48.30ZM48.30 76.30H599.31M231.97 0.90V151.40M415.64 0.90V151.40M48.30 189.23H599.31V339.73H48.30ZM48.30 264.63H599.31M231.97 189.23V339.73M415.64 189.23V339.73M48.30 377.56H599.31V528.06H48.30ZM48.30 452.96H599.31M231.97 377.56V528.06M415.64 377.56V528.06M48.30 565.89H599.31V716.39H48.30ZM48.30 641.29H599.31M231.97 565.89V716.39M415.64 565.89V716.39" stroke="#000" stroke-width="1.4" fill="none"/><g style="will-change:transform" text-rendering="geometricPrecision" font-family='"Liberation Serif", serif' fill="#000" stroke="#000" stroke-width="0.12"><text x="32.17" y="70.28" font-size="11.0" textLength="12.50" lengthAdjust="spacingAndGlyphs">50</text><text x="26.06" y="60.85" font-size="11.0" textLength="18.61" lengthAdjust="spacingAndGlyphs">100</text><text x="26.06" y="51.43" font-size="11.0" textLength="18.61" lengthAdjust="spacingAndGlyphs">150</text><text x="26.62" y="42.00" font-size="11.0" textLength="18.04" lengthAdjust="spacingAndGlyphs">200</text><text x="26.62" y="32.58" font-size="11.0" textLength="18.04" lengthAdjust="spacingAndGlyphs">250</text><text x="26.57" y="23.15" font-size="11.0" textLength="18.09" lengthAdjust="spacingAndGlyphs">300</text><text x="26.57" y="13.73" font-size="11.0" textLength="18.09" lengthAdjust="spacingAndGlyphs">350</text><text x="26.62" y="89.94" font-size="11.0" textLength="18.04" lengthAdjust="spacingAndGlyphs">200</text><text x="26.06" y="103.60" font-size="11.0" textLength="18.61" lengthAdjust="spacingAndGlyphs">100</text><text x="38.42" y="117.25" font-size="11.0" textLength="6.25" lengthAdjust="spacingAndGlyphs">0</text><text x="26.06" y="130.90" font-size="11.0" textLength="18.61" lengthAdjust="spacingAndGlyphs">100</text><text x="26.62" y="144.56" font-size="11.0" textLength="18.04" lengthAdjust="spacingAndGlyphs">200</text><text x="90.22" y="162.75" font-size="9.7" textLength="5.40" lengthAdjust="spacingAndGlyphs">5</text><text x="137.55" y="162.75" font-size="9.7" textLength="5.90" lengthAdjust="spacingAndGlyphs">0</text><text x="188.55" y="162.75" font-size="9.7" textLength="5.59" lengthAdjust="spacingAndGlyphs">5</text><text x="57.39" y="16.20" font-size="12.1" textLength="27.04" lengthAdjust="spacingAndGlyphs">0735</text><text x="92.66" y="16.20" font-size="12.1" textLength="26.78" lengthAdjust="spacingAndGlyphs">3752</text><text x="101.79" y="177.30" font-size="11.8" textLength="78.02" lengthAdjust="spacingAndGlyphs">Offset (arcsec)</text><text x="273.22" y="162.75" font-size="9.7" textLength="5.40" lengthAdjust="spacingAndGlyphs">5</text><text x="320.55" y="162.75" font-size="9.7" textLength="5.90" lengthAdjust="spacingAndGlyphs">0</text><text x="371.55" y="162.75" font-size="9.7" textLength="5.59" lengthAdjust="spacingAndGlyphs">5</text><text x="241.06" y="16.20" font-size="12.1" textLength="27.04" lengthAdjust="spacingAndGlyphs">0737</text><text x="276.33" y="16.20" font-size="12.1" textLength="26.78" lengthAdjust="spacingAndGlyphs">4244</text><text x="285.46" y="177.30" font-size="11.8" textLength="78.02" lengthAdjust="spacingAndGlyphs">Offset (arcsec)</text><text x="457.22" y="162.75" font-size="9.7" textLength="5.40" lengthAdjust="spacingAndGlyphs">5</text><text x="504.55" y="162.75" font-size="9.7" textLength="5.90" lengthAdjust="spacingAndGlyphs">0</text><text x="555.55" y="162.75" font-size="9.7" textLength="5.59" lengthAdjust="spacingAndGlyphs">5</text><text x="424.73" y="16.20" font-size="12.1" textLength="27.04" lengthAdjust="spacingAndGlyphs">0802</text><text x="460.00" y="16.20" font-size="12.1" textLength="26.78" lengthAdjust="spacingAndGlyphs">3104</text><text x="469.13" y="177.30" font-size="11.8" textLength="78.02" lengthAdjust="spacingAndGlyphs">Offset (arcsec)</text><text transform="translate(16.80 0) rotate(-90)" x="-65.12" y="0" font-size="9.2" textLength="5.38" lengthAdjust="spacingAndGlyphs" font-style="italic">σ</text><text transform="translate(15.90 0) rotate(-90)" x="-55.46" y="0" font-size="10.3" textLength="3.50" lengthAdjust="spacingAndGlyphs">(</text><text transform="translate(16.80 0) rotate(-90)" x="-51.02" y="0" font-size="12.1" textLength="14.80" lengthAdjust="spacingAndGlyphs">km</text><text transform="translate(16.80 0) rotate(-90)" x="-32.69" y="0" font-size="12.1" textLength="5.61" lengthAdjust="spacingAndGlyphs">s</text><text transform="translate(12.90 0) rotate(-90)" x="-26.56" y="0" font-size="7.9" textLength="5.21" lengthAdjust="spacingAndGlyphs">−</text><text transform="translate(12.40 0) rotate(-90)" x="-21.22" y="0" font-size="7.9" textLength="3.55" lengthAdjust="spacingAndGlyphs">1</text><text transform="translate(15.90 0) rotate(-90)" x="-14.94" y="0" font-size="10.3" textLength="3.50" lengthAdjust="spacingAndGlyphs">)</text><text transform="translate(9.75 0) rotate(-90)" x="-140.91" y="0" font-size="11.0" textLength="5.31" lengthAdjust="spacingAndGlyphs" font-style="italic">v</text><text transform="translate(8.75 0) rotate(-90)" x="-131.86" y="0" font-size="10.3" textLength="3.50" lengthAdjust="spacingAndGlyphs">(</text><text transform="translate(9.65 0) rotate(-90)" x="-127.42" y="0" font-size="12.1" textLength="14.80" lengthAdjust="spacingAndGlyphs">km</text><text transform="translate(9.65 0) rotate(-90)" x="-109.09" y="0" font-size="12.1" textLength="5.61" lengthAdjust="spacingAndGlyphs">s</text><text transform="translate(5.75 0) rotate(-90)" x="-102.96" y="0" font-size="7.9" textLength="5.21" lengthAdjust="spacingAndGlyphs">−</text><text transform="translate(5.25 0) rotate(-90)" x="-97.62" y="0" font-size="7.9" textLength="3.55" lengthAdjust="spacingAndGlyphs">1</text><text transform="translate(8.75 0) rotate(-90)" x="-91.34" y="0" font-size="10.3" textLength="3.50" lengthAdjust="spacingAndGlyphs">)</text><text x="32.17" y="258.60" font-size="11.0" textLength="12.50" lengthAdjust="spacingAndGlyphs">50</text><text x="26.06" y="249.18" font-size="11.0" textLength="18.61" lengthAdjust="spacingAndGlyphs">100</text><text x="26.06" y="239.75" font-size="11.0" textLength="18.61" lengthAdjust="spacingAndGlyphs">150</text><text x="26.62" y="230.33" font-size="11.0" textLength="18.04" lengthAdjust="spacingAndGlyphs">200</text><text x="26.62" y="220.91" font-size="11.0" textLength="18.04" lengthAdjust="spacingAndGlyphs">250</text><text x="26.57" y="211.48" font-size="11.0" textLength="18.09" lengthAdjust="spacingAndGlyphs">300</text><text x="26.57" y="202.05" font-size="11.0" textLength="18.09" lengthAdjust="spacingAndGlyphs">350</text><text x="26.62" y="278.27" font-size="11.0" textLength="18.04" lengthAdjust="spacingAndGlyphs">200</text><text x="26.06" y="291.93" font-size="11.0" textLength="18.61" lengthAdjust="spacingAndGlyphs">100</text><text x="38.42" y="305.58" font-size="11.0" textLength="6.25" lengthAdjust="spacingAndGlyphs">0</text><text x="26.06" y="319.23" font-size="11.0" textLength="18.61" lengthAdjust="spacingAndGlyphs">100</text><text x="26.62" y="332.89" font-size="11.0" textLength="18.04" lengthAdjust="spacingAndGlyphs">200</text><text x="90.22" y="351.08" font-size="9.7" textLength="5.40" lengthAdjust="spacingAndGlyphs">5</text><text x="137.55" y="351.08" font-size="9.7" textLength="5.90" lengthAdjust="spacingAndGlyphs">0</text><text x="188.55" y="351.08" font-size="9.7" textLength="5.59" lengthAdjust="spacingAndGlyphs">5</text><text x="57.39" y="204.53" font-size="12.1" textLength="27.04" lengthAdjust="spacingAndGlyphs">0811</text><text x="92.66" y="204.53" font-size="12.1" textLength="26.78" lengthAdjust="spacingAndGlyphs">1739</text><text x="101.79" y="365.63" font-size="11.8" textLength="78.02" lengthAdjust="spacingAndGlyphs">Offset (arcsec)</text><text x="273.22" y="351.08" font-size="9.7" textLength="5.40" lengthAdjust="spacingAndGlyphs">5</text><text x="320.55" y="351.08" font-size="9.7" textLength="5.90" lengthAdjust="spacingAndGlyphs">0</text><text x="371.55" y="351.08" font-size="9.7" textLength="5.59" lengthAdjust="spacingAndGlyphs">5</text><text x="241.06" y="204.53" font-size="12.1" textLength="27.04" lengthAdjust="spacingAndGlyphs">0813</text><text x="276.33" y="204.53" font-size="12.1" textLength="26.78" lengthAdjust="spacingAndGlyphs">4608</text><text x="285.46" y="365.63" font-size="11.8" textLength="78.02" lengthAdjust="spacingAndGlyphs">Offset (arcsec)</text><text x="457.22" y="351.08" font-size="9.7" textLength="5.40" lengthAdjust="spacingAndGlyphs">5</text><text x="504.55" y="351.08" font-size="9.7" textLength="5.90" lengthAdjust="spacingAndGlyphs">0</text><text x="555.55" y="351.08" font-size="9.7" textLength="5.59" lengthAdjust="spacingAndGlyphs">5</text><text x="424.73" y="204.53" font-size="12.1" textLength="27.04" lengthAdjust="spacingAndGlyphs">0831</text><text x="460.00" y="204.53" font-size="12.1" textLength="26.78" lengthAdjust="spacingAndGlyphs">0521</text><text x="469.13" y="365.63" font-size="11.8" textLength="78.02" lengthAdjust="spacingAndGlyphs">Offset (arcsec)</text><text transform="translate(16.80 0) rotate(-90)" x="-253.45" y="0" font-size="9.2" textLength="5.38" lengthAdjust="spacingAndGlyphs" font-style="italic">σ</text><text transform="translate(15.90 0) rotate(-90)" x="-243.79" y="0" font-size="10.3" textLength="3.50" lengthAdjust="spacingAndGlyphs">(</text><text transform="translate(16.80 0) rotate(-90)" x="-239.35" y="0" font-size="12.1" textLength="14.80" lengthAdjust="spacingAndGlyphs">km</text><text transform="translate(16.80 0) rotate(-90)" x="-221.02" y="0" font-size="12.1" textLength="5.61" lengthAdjust="spacingAndGlyphs">s</text><text transform="translate(12.90 0) rotate(-90)" x="-214.89" y="0" font-size="7.9" textLength="5.21" lengthAdjust="spacingAndGlyphs">−</text><text transform="translate(12.40 0) rotate(-90)" x="-209.55" y="0" font-size="7.9" textLength="3.55" lengthAdjust="spacingAndGlyphs">1</text><text transform="translate(15.90 0) rotate(-90)" x="-203.27" y="0" font-size="10.3" textLength="3.50" lengthAdjust="spacingAndGlyphs">)</text><text transform="translate(9.75 0) rotate(-90)" x="-329.24" y="0" font-size="11.0" textLength="5.31" lengthAdjust="spacingAndGlyphs" font-style="italic">v</text><text transform="translate(8.75 0) rotate(-90)" x="-320.19" y="0" font-size="10.3" textLength="3.50" lengthAdjust="spacingAndGlyphs">(</text><text transform="translate(9.65 0) rotate(-90)" x="-315.75" y="0" font-size="12.1" textLength="14.80" lengthAdjust="spacingAndGlyphs">km</text><text transform="translate(9.65 0) rotate(-90)" x="-297.42" y="0" font-size="12.1" textLength="5.61" lengthAdjust="spacingAndGlyphs">s</text><text transform="translate(5.75 0) rotate(-90)" x="-291.29" y="0" font-size="7.9" textLength="5.21" lengthAdjust="spacingAndGlyphs">−</text><text transform="translate(5.25 0) rotate(-90)" x="-285.95" y="0" font-size="7.9" textLength="3.55" lengthAdjust="spacingAndGlyphs">1</text><text transform="translate(8.75 0) rotate(-90)" x="-279.67" y="0" font-size="10.3" textLength="3.50" lengthAdjust="spacingAndGlyphs">)</text><text x="32.17" y="446.94" font-size="11.0" textLength="12.50" lengthAdjust="spacingAndGlyphs">50</text><text x="26.06" y="437.51" font-size="11.0" textLength="18.61" lengthAdjust="spacingAndGlyphs">100</text><text x="26.06" y="428.09" font-size="11.0" textLength="18.61" lengthAdjust="spacingAndGlyphs">150</text><text x="26.62" y="418.66" font-size="11.0" textLength="18.04" lengthAdjust="spacingAndGlyphs">200</text><text x="26.62" y="409.24" font-size="11.0" textLength="18.04" lengthAdjust="spacingAndGlyphs">250</text><text x="26.57" y="399.81" font-size="11.0" textLength="18.09" lengthAdjust="spacingAndGlyphs">300</text><text x="26.57" y="390.38" font-size="11.0" textLength="18.09" lengthAdjust="spacingAndGlyphs">350</text><text x="26.62" y="466.60" font-size="11.0" textLength="18.04" lengthAdjust="spacingAndGlyphs">200</text><text x="26.06" y="480.26" font-size="11.0" textLength="18.61" lengthAdjust="spacingAndGlyphs">100</text><text x="38.42" y="493.91" font-size="11.0" textLength="6.25" lengthAdjust="spacingAndGlyphs">0</text><text x="26.06" y="507.56" font-size="11.0" textLength="18.61" lengthAdjust="spacingAndGlyphs">100</text><text x="26.62" y="521.22" font-size="11.0" textLength="18.04" lengthAdjust="spacingAndGlyphs">200</text><text x="90.22" y="539.41" font-size="9.7" textLength="5.40" lengthAdjust="spacingAndGlyphs">5</text><text x="137.55" y="539.41" font-size="9.7" textLength="5.90" lengthAdjust="spacingAndGlyphs">0</text><text x="188.55" y="539.41" font-size="9.7" textLength="5.59" lengthAdjust="spacingAndGlyphs">5</text><text x="57.39" y="392.86" font-size="12.1" textLength="27.04" lengthAdjust="spacingAndGlyphs">0845</text><text x="92.66" y="392.86" font-size="12.1" textLength="26.78" lengthAdjust="spacingAndGlyphs">3409</text><text x="101.79" y="553.96" font-size="11.8" textLength="78.02" lengthAdjust="spacingAndGlyphs">Offset (arcsec)</text><text x="273.22" y="539.41" font-size="9.7" textLength="5.40" lengthAdjust="spacingAndGlyphs">5</text><text x="320.55" y="539.41" font-size="9.7" textLength="5.90" lengthAdjust="spacingAndGlyphs">0</text><text x="371.55" y="539.41" font-size="9.7" textLength="5.59" lengthAdjust="spacingAndGlyphs">5</text><text x="241.06" y="392.86" font-size="12.1" textLength="27.04" lengthAdjust="spacingAndGlyphs">0846</text><text x="276.33" y="392.86" font-size="12.1" textLength="26.78" lengthAdjust="spacingAndGlyphs">2522</text><text x="285.46" y="553.96" font-size="11.8" textLength="78.02" lengthAdjust="spacingAndGlyphs">Offset (arcsec)</text><text x="457.22" y="539.41" font-size="9.7" textLength="5.40" lengthAdjust="spacingAndGlyphs">5</text><text x="504.55" y="539.41" font-size="9.7" textLength="5.90" lengthAdjust="spacingAndGlyphs">0</text><text x="555.55" y="539.41" font-size="9.7" textLength="5.59" lengthAdjust="spacingAndGlyphs">5</text><text x="424.73" y="392.86" font-size="12.1" textLength="27.04" lengthAdjust="spacingAndGlyphs">0857</text><text x="460.00" y="392.86" font-size="12.1" textLength="26.78" lengthAdjust="spacingAndGlyphs">0528</text><text x="469.13" y="553.96" font-size="11.8" textLength="78.02" lengthAdjust="spacingAndGlyphs">Offset (arcsec)</text><text transform="translate(16.80 0) rotate(-90)" x="-441.78" y="0" font-size="9.2" textLength="5.38" lengthAdjust="spacingAndGlyphs" font-style="italic">σ</text><text transform="translate(15.90 0) rotate(-90)" x="-432.12" y="0" font-size="10.3" textLength="3.50" lengthAdjust="spacingAndGlyphs">(</text><text transform="translate(16.80 0) rotate(-90)" x="-427.68" y="0" font-size="12.1" textLength="14.80" lengthAdjust="spacingAndGlyphs">km</text><text transform="translate(16.80 0) rotate(-90)" x="-409.35" y="0" font-size="12.1" textLength="5.61" lengthAdjust="spacingAndGlyphs">s</text><text transform="translate(12.90 0) rotate(-90)" x="-403.22" y="0" font-size="7.9" textLength="5.21" lengthAdjust="spacingAndGlyphs">−</text><text transform="translate(12.40 0) rotate(-90)" x="-397.88" y="0" font-size="7.9" textLength="3.55" lengthAdjust="spacingAndGlyphs">1</text><text transform="translate(15.90 0) rotate(-90)" x="-391.60" y="0" font-size="10.3" textLength="3.50" lengthAdjust="spacingAndGlyphs">)</text><text transform="translate(9.75 0) rotate(-90)" x="-517.57" y="0" font-size="11.0" textLength="5.31" lengthAdjust="spacingAndGlyphs" font-style="italic">v</text><text transform="translate(8.75 0) rotate(-90)" x="-508.52" y="0" font-size="10.3" textLength="3.50" lengthAdjust="spacingAndGlyphs">(</text><text transform="translate(9.65 0) rotate(-90)" x="-504.08" y="0" font-size="12.1" textLength="14.80" lengthAdjust="spacingAndGlyphs">km</text><text transform="translate(9.65 0) rotate(-90)" x="-485.75" y="0" font-size="12.1" textLength="5.61" lengthAdjust="spacingAndGlyphs">s</text><text transform="translate(5.75 0) rotate(-90)" x="-479.62" y="0" font-size="7.9" textLength="5.21" lengthAdjust="spacingAndGlyphs">−</text><text transform="translate(5.25 0) rotate(-90)" x="-474.28" y="0" font-size="7.9" textLength="3.55" lengthAdjust="spacingAndGlyphs">1</text><text transform="translate(8.75 0) rotate(-90)" x="-468.00" y="0" font-size="10.3" textLength="3.50" lengthAdjust="spacingAndGlyphs">)</text><text x="32.17" y="635.26" font-size="11.0" textLength="12.50" lengthAdjust="spacingAndGlyphs">50</text><text x="26.06" y="625.84" font-size="11.0" textLength="18.61" lengthAdjust="spacingAndGlyphs">100</text><text x="26.06" y="616.41" font-size="11.0" textLength="18.61" lengthAdjust="spacingAndGlyphs">150</text><text x="26.62" y="606.99" font-size="11.0" textLength="18.04" lengthAdjust="spacingAndGlyphs">200</text><text x="26.62" y="597.56" font-size="11.0" textLength="18.04" lengthAdjust="spacingAndGlyphs">250</text><text x="26.57" y="588.14" font-size="11.0" textLength="18.09" lengthAdjust="spacingAndGlyphs">300</text><text x="26.57" y="578.71" font-size="11.0" textLength="18.09" lengthAdjust="spacingAndGlyphs">350</text><text x="26.62" y="654.93" font-size="11.0" textLength="18.04" lengthAdjust="spacingAndGlyphs">200</text><text x="26.06" y="668.59" font-size="11.0" textLength="18.61" lengthAdjust="spacingAndGlyphs">100</text><text x="38.42" y="682.24" font-size="11.0" textLength="6.25" lengthAdjust="spacingAndGlyphs">0</text><text x="26.06" y="695.89" font-size="11.0" textLength="18.61" lengthAdjust="spacingAndGlyphs">100</text><text x="26.62" y="709.55" font-size="11.0" textLength="18.04" lengthAdjust="spacingAndGlyphs">200</text><text x="90.22" y="727.74" font-size="9.7" textLength="5.40" lengthAdjust="spacingAndGlyphs">5</text><text x="137.55" y="727.74" font-size="9.7" textLength="5.90" lengthAdjust="spacingAndGlyphs">0</text><text x="188.55" y="727.74" font-size="9.7" textLength="5.59" lengthAdjust="spacingAndGlyphs">5</text><text x="57.39" y="581.19" font-size="12.1" textLength="27.04" lengthAdjust="spacingAndGlyphs">0904</text><text x="92.66" y="581.19" font-size="12.1" textLength="26.78" lengthAdjust="spacingAndGlyphs">5536</text><text x="101.79" y="742.29" font-size="11.8" textLength="78.02" lengthAdjust="spacingAndGlyphs">Offset (arcsec)</text><text x="273.22" y="727.74" font-size="9.7" textLength="5.40" lengthAdjust="spacingAndGlyphs">5</text><text x="320.55" y="727.74" font-size="9.7" textLength="5.90" lengthAdjust="spacingAndGlyphs">0</text><text x="371.55" y="727.74" font-size="9.7" textLength="5.59" lengthAdjust="spacingAndGlyphs">5</text><text x="241.06" y="581.19" font-size="12.1" textLength="27.04" lengthAdjust="spacingAndGlyphs">0909</text><text x="276.33" y="581.19" font-size="12.1" textLength="26.78" lengthAdjust="spacingAndGlyphs">1330</text><text x="285.46" y="742.29" font-size="11.8" textLength="78.02" lengthAdjust="spacingAndGlyphs">Offset (arcsec)</text><text x="457.22" y="727.74" font-size="9.7" textLength="5.40" lengthAdjust="spacingAndGlyphs">5</text><text x="504.55" y="727.74" font-size="9.7" textLength="5.90" lengthAdjust="spacingAndGlyphs">0</text><text x="555.55" y="727.74" font-size="9.7" textLength="5.59" lengthAdjust="spacingAndGlyphs">5</text><text x="424.73" y="581.19" font-size="12.1" textLength="27.04" lengthAdjust="spacingAndGlyphs">0921</text><text x="460.00" y="581.19" font-size="12.1" textLength="26.78" lengthAdjust="spacingAndGlyphs">1017</text><text x="469.13" y="742.29" font-size="11.8" textLength="78.02" lengthAdjust="spacingAndGlyphs">Offset (arcsec)</text><text transform="translate(16.80 0) rotate(-90)" x="-630.11" y="0" font-size="9.2" textLength="5.38" lengthAdjust="spacingAndGlyphs" font-style="italic">σ</text><text transform="translate(15.90 0) rotate(-90)" x="-620.45" y="0" font-size="10.3" textLength="3.50" lengthAdjust="spacingAndGlyphs">(</text><text transform="translate(16.80 0) rotate(-90)" x="-616.01" y="0" font-size="12.1" textLength="14.80" lengthAdjust="spacingAndGlyphs">km</text><text transform="translate(16.80 0) rotate(-90)" x="-597.68" y="0" font-size="12.1" textLength="5.61" lengthAdjust="spacingAndGlyphs">s</text><text transform="translate(12.90 0) rotate(-90)" x="-591.55" y="0" font-size="7.9" textLength="5.21" lengthAdjust="spacingAndGlyphs">−</text><text transform="translate(12.40 0) rotate(-90)" x="-586.21" y="0" font-size="7.9" textLength="3.55" lengthAdjust="spacingAndGlyphs">1</text><text transform="translate(15.90 0) rotate(-90)" x="-579.93" y="0" font-size="10.3" textLength="3.50" lengthAdjust="spacingAndGlyphs">)</text><text transform="translate(9.75 0) rotate(-90)" x="-705.90" y="0" font-size="11.0" textLength="5.31" lengthAdjust="spacingAndGlyphs" font-style="italic">v</text><text transform="translate(8.75 0) rotate(-90)" x="-696.85" y="0" font-size="10.3" textLength="3.50" lengthAdjust="spacingAndGlyphs">(</text><text transform="translate(9.65 0) rotate(-90)" x="-692.41" y="0" font-size="12.1" textLength="14.80" lengthAdjust="spacingAndGlyphs">km</text><text transform="translate(9.65 0) rotate(-90)" x="-674.08" y="0" font-size="12.1" textLength="5.61" lengthAdjust="spacingAndGlyphs">s</text><text transform="translate(5.75 0) rotate(-90)" x="-667.95" y="0" font-size="7.9" textLength="5.21" lengthAdjust="spacingAndGlyphs">−</text><text transform="translate(5.25 0) rotate(-90)" x="-662.61" y="0" font-size="7.9" textLength="3.55" lengthAdjust="spacingAndGlyphs">1</text><text transform="translate(8.75 0) rotate(-90)" x="-656.33" y="0" font-size="10.3" textLength="3.50" lengthAdjust="spacingAndGlyphs">)</text></g><g fill="#111"><rect x="20.25" y="127.70" width="6" height="0.9"/><rect x="20.25" y="141.36" width="6" height="0.9"/><rect x="84.85" y="159.65" width="5.05" height="0.9"/><rect x="85.15" y="12.03" width="6.65" height="0.95"/><rect x="88.03" y="9.30" width="0.95" height="6.4"/><rect x="267.85" y="159.65" width="5.05" height="0.9"/><rect x="268.82" y="12.03" width="6.65" height="0.95"/><rect x="271.69" y="9.30" width="0.95" height="6.4"/><rect x="451.85" y="159.65" width="5.05" height="0.9"/><rect x="452.49" y="12.03" width="6.65" height="0.95"/><rect x="455.36" y="9.30" width="0.95" height="6.4"/><rect x="20.25" y="316.03" width="6" height="0.9"/><rect x="20.25" y="329.69" width="6" height="0.9"/><rect x="84.85" y="347.98" width="5.05" height="0.9"/><rect x="85.15" y="200.36" width="6.65" height="0.95"/><rect x="88.03" y="197.63" width="0.95" height="6.4"/><rect x="267.85" y="347.98" width="5.05" height="0.9"/><rect x="268.82" y="200.36" width="6.65" height="0.95"/><rect x="271.69" y="197.63" width="0.95" height="6.4"/><rect x="451.85" y="347.98" width="5.05" height="0.9"/><rect x="452.49" y="200.36" width="6.65" height="0.95"/><rect x="455.36" y="197.63" width="0.95" height="6.4"/><rect x="20.25" y="504.36" width="6" height="0.9"/><rect x="20.25" y="518.02" width="6" height="0.9"/><rect x="84.85" y="536.31" width="5.05" height="0.9"/><rect x="85.15" y="388.69" width="6.65" height="0.95"/><rect x="88.03" y="385.96" width="0.95" height="6.4"/><rect x="267.85" y="536.31" width="5.05" height="0.9"/><rect x="268.82" y="388.69" width="6.65" height="0.95"/><rect x="271.69" y="385.96" width="0.95" height="6.4"/><rect x="451.85" y="536.31" width="5.05" height="0.9"/><rect x="452.49" y="388.69" width="6.65" height="0.95"/><rect x="455.36" y="385.96" width="0.95" height="6.4"/><rect x="20.25" y="692.69" width="6" height="0.9"/><rect x="20.25" y="706.35" width="6" height="0.9"/><rect x="84.85" y="724.64" width="5.05" height="0.9"/><rect x="85.15" y="577.01" width="6.65" height="0.95"/><rect x="88.03" y="574.29" width="0.95" height="6.4"/><rect x="267.85" y="724.64" width="5.05" height="0.9"/><rect x="268.82" y="577.01" width="6.65" height="0.95"/><rect x="271.69" y="574.29" width="0.95" height="6.4"/><rect x="451.85" y="724.64" width="5.05" height="0.9"/><rect x="452.49" y="577.01" width="6.65" height="0.95"/><rect x="455.36" y="574.29" width="0.95" height="6.4"/></g></svg></body></html>
